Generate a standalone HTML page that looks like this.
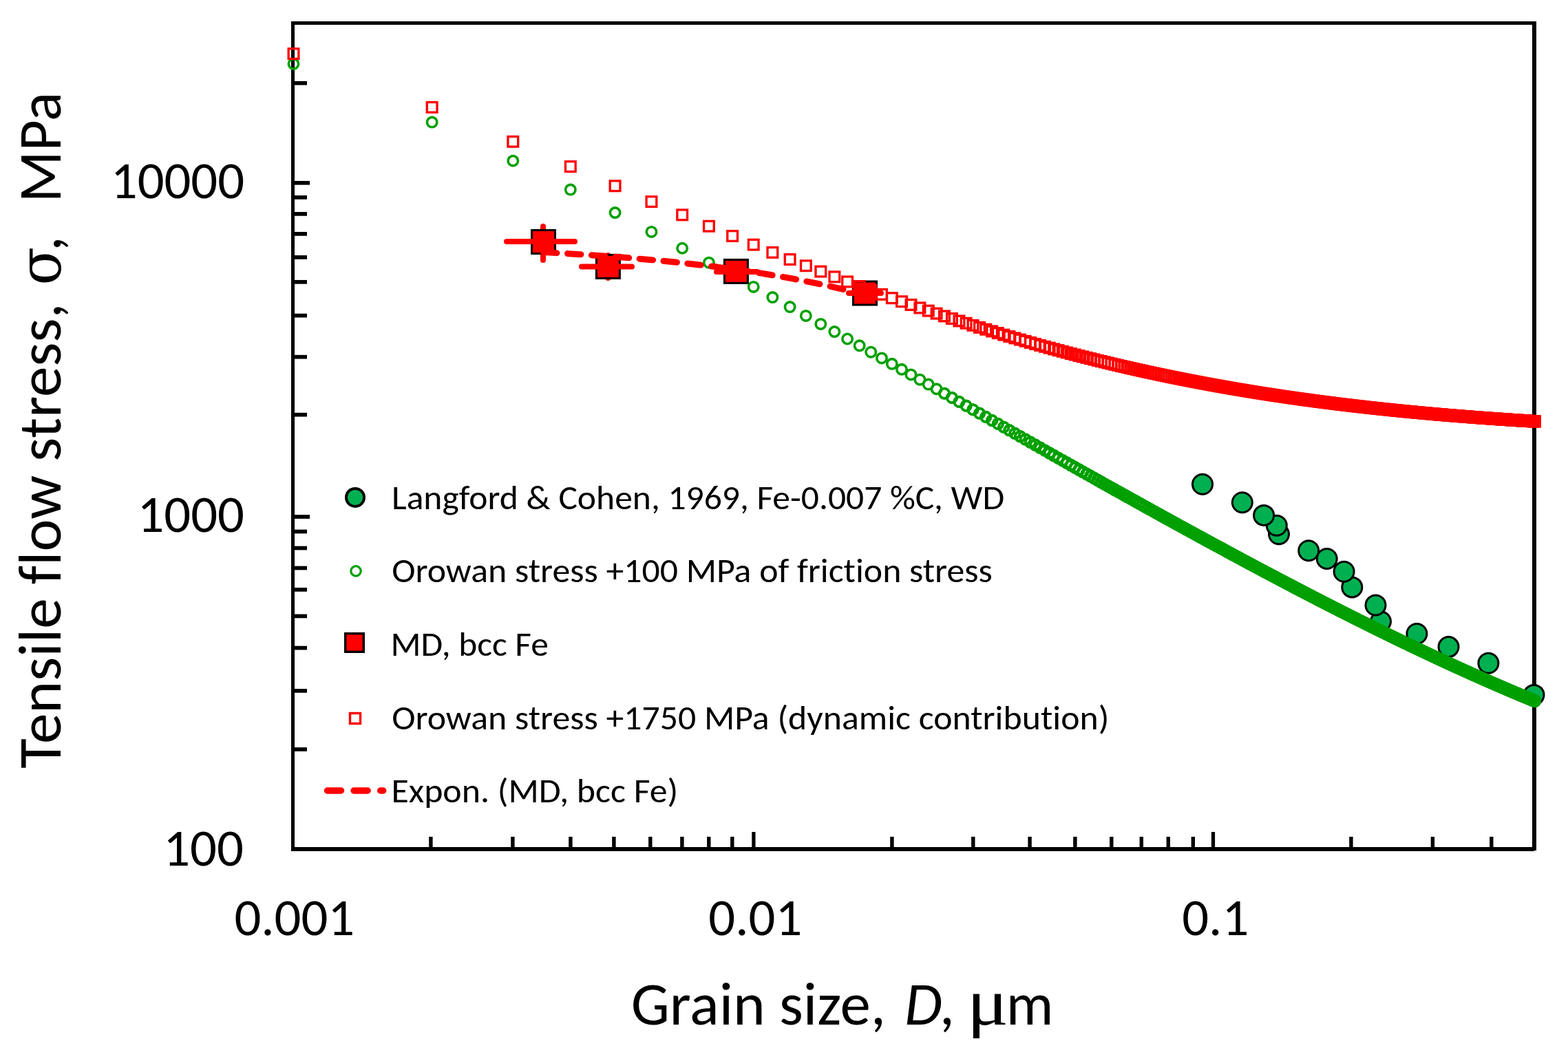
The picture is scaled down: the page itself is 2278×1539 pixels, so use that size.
<!DOCTYPE html>
<html><head><meta charset="utf-8"><title>Tensile flow stress vs grain size</title>
<style>html,body{margin:0;padding:0;background:#fff;overflow:hidden;}svg{display:block;}text{font-variant-ligatures:none;font-feature-settings:'liga' 0,'clig' 0;white-space:pre;}</style>
</head><body>
<svg width="2278" height="1539" viewBox="0 0 2278 1539">
<rect x="0" y="0" width="2278" height="1539" fill="#fff"/>
<g fill="#000">
<rect x="423" y="31" width="5" height="1206"/>
<rect x="423" y="31" width="1809" height="5"/>
<rect x="2226" y="31" width="6" height="1205"/>
<rect x="423" y="1231" width="1806" height="6"/>
<rect x="428" y="117.95" width="18" height="5.7"/>
<rect x="428" y="262.95" width="22" height="5.7"/>
<rect x="428" y="284.00" width="18" height="5.7"/>
<rect x="428" y="308.05" width="18" height="5.7"/>
<rect x="428" y="337.05" width="18" height="5.7"/>
<rect x="428" y="371.05" width="18" height="5.7"/>
<rect x="428" y="406.95" width="18" height="5.7"/>
<rect x="428" y="455.75" width="18" height="5.7"/>
<rect x="428" y="515.85" width="18" height="5.7"/>
<rect x="428" y="599.85" width="18" height="5.7"/>
<rect x="428" y="748.15" width="22" height="5.7"/>
<rect x="428" y="769.65" width="18" height="5.7"/>
<rect x="428" y="793.65" width="18" height="5.7"/>
<rect x="428" y="822.65" width="18" height="5.7"/>
<rect x="428" y="854.05" width="18" height="5.7"/>
<rect x="428" y="892.55" width="18" height="5.7"/>
<rect x="428" y="938.75" width="18" height="5.7"/>
<rect x="428" y="1001.05" width="18" height="5.7"/>
<rect x="428" y="1086.15" width="18" height="5.7"/>
<rect x="623.20" y="1216" width="5.4" height="15"/>
<rect x="742.20" y="1216" width="5.4" height="15"/>
<rect x="826.20" y="1216" width="5.4" height="15"/>
<rect x="889.20" y="1216" width="5.4" height="15"/>
<rect x="942.10" y="1216" width="5.4" height="15"/>
<rect x="988.20" y="1216" width="5.4" height="15"/>
<rect x="1027.10" y="1216" width="5.4" height="15"/>
<rect x="1061.10" y="1216" width="5.4" height="15"/>
<rect x="1092.30" y="1209" width="5.2" height="22"/>
<rect x="1293.20" y="1216" width="5.4" height="15"/>
<rect x="1411.10" y="1216" width="5.4" height="15"/>
<rect x="1493.40" y="1216" width="5.4" height="15"/>
<rect x="1559.20" y="1216" width="5.4" height="15"/>
<rect x="1612.10" y="1216" width="5.4" height="15"/>
<rect x="1655.60" y="1216" width="5.4" height="15"/>
<rect x="1694.60" y="1216" width="5.4" height="15"/>
<rect x="1730.60" y="1216" width="5.4" height="15"/>
<rect x="1759.90" y="1209" width="5.2" height="22"/>
<rect x="1960.20" y="1216" width="5.4" height="15"/>
<rect x="2078.70" y="1216" width="5.4" height="15"/>
<rect x="2164.10" y="1216" width="5.4" height="15"/>
</g>
<g font-family="Carlito, 'Liberation Sans', sans-serif" font-size="76.7" fill="#000">
<text x="355.1" y="288" text-anchor="end" textLength="194.3" lengthAdjust="spacingAndGlyphs">10000</text>
<text x="354.9" y="773" text-anchor="end" textLength="155.5" lengthAdjust="spacingAndGlyphs">1000</text>
<text x="353.8" y="1258" text-anchor="end" textLength="116.6" lengthAdjust="spacingAndGlyphs">100</text>
<text x="427.8" y="1359" text-anchor="middle" textLength="174.8" lengthAdjust="spacingAndGlyphs">0.001</text>
<text x="1097.3" y="1359" text-anchor="middle" textLength="136" lengthAdjust="spacingAndGlyphs">0.01</text>
<text x="1765.8" y="1359" text-anchor="middle" textLength="97.1" lengthAdjust="spacingAndGlyphs">0.1</text>
</g>
<g font-family="Carlito, 'Liberation Sans', sans-serif" font-size="89" fill="#000">
<text x="916.7" y="1488.8" textLength="370.2" lengthAdjust="spacingAndGlyphs">Grain size,</text>
<text x="1314" y="1488.8" font-style="italic" textLength="54.8" lengthAdjust="spacingAndGlyphs">D</text>
<text x="1364.8" y="1488.8" textLength="22.2" lengthAdjust="spacingAndGlyphs">,</text>
<g transform="translate(1413,1488.8) scale(1.1925,1)"><text x="-7" y="0" font-family="'Liberation Serif', serif" font-size="94.5">μ</text></g>
<text x="1461.8" y="1488.8" textLength="68.7" lengthAdjust="spacingAndGlyphs">m</text>
</g>
<g transform="translate(87.9,1116.7) rotate(-90)" font-family="Carlito, 'Liberation Sans', sans-serif" font-size="89" fill="#000">
<text x="0" y="0" textLength="676.3" lengthAdjust="spacingAndGlyphs">Tensile flow stress,</text>
<g transform="translate(706,0) scale(0.9377,1)"><text x="-4" y="0" font-family="'DejaVu Serif', serif" font-size="86.8">σ</text></g>
<text x="751.4" y="0" textLength="22.2" lengthAdjust="spacingAndGlyphs">,</text>
<text x="822.2" y="0" textLength="160.5" lengthAdjust="spacingAndGlyphs">MPa</text>
</g>
<g font-family="Carlito, 'Liberation Sans', sans-serif" font-size="50" fill="#000">
<text x="569.0" y="740" textLength="890.2" lengthAdjust="spacingAndGlyphs">Langford &amp; Cohen, 1969, Fe-0.007 %C, WD</text>
<text x="569.2" y="846" textLength="872.6" lengthAdjust="spacingAndGlyphs">Orowan stress +100 MPa of friction stress</text>
<text x="567.4" y="953" textLength="229.5" lengthAdjust="spacingAndGlyphs">MD, bcc Fe</text>
<text x="569.2" y="1060" textLength="1042.2" lengthAdjust="spacingAndGlyphs">Orowan stress +1750 MPa (dynamic contribution)</text>
<text x="568.4" y="1166" textLength="416.8" lengthAdjust="spacingAndGlyphs">Expon. (MD, bcc Fe)</text>
</g>
<circle cx="516" cy="722.9" r="13" fill="#00B050" stroke="#000" stroke-width="4"/>
<circle cx="517" cy="829.9" r="7.2" fill="none" stroke="#00A000" stroke-width="3.2"/>
<rect x="501.7" y="920.7" width="26.6" height="26.6" fill="#FF0000" stroke="#000" stroke-width="3.4"/>
<rect x="508.5" y="1036.5" width="15" height="15" fill="none" stroke="#FF0000" stroke-width="3.4"/>
<line x1="475.5" y1="1149" x2="556.7" y2="1149" stroke="#FF0000" stroke-width="9.5" stroke-linecap="round" stroke-dasharray="20 18.6"/>
<g fill="#00B050" stroke="#000" stroke-width="3">
<circle cx="1858.0" cy="776.2" r="14.5"/>
<circle cx="1854.8" cy="763.7" r="14.5"/>
<circle cx="1836.1" cy="748.9" r="14.5"/>
<circle cx="1747.0" cy="703.7" r="14.5"/>
<circle cx="1804.8" cy="730.2" r="14.5"/>
<circle cx="1927.7" cy="812.0" r="14.5"/>
<circle cx="1901.2" cy="800.3" r="14.5"/>
<circle cx="1964.3" cy="853.4" r="14.5"/>
<circle cx="1952.6" cy="830.7" r="14.5"/>
<circle cx="2006" cy="903.2" r="14.5"/>
<circle cx="1998.5" cy="879.5" r="14.5"/>
<circle cx="2058.4" cy="921" r="14.5"/>
<circle cx="2104.5" cy="940.1" r="14.5"/>
<circle cx="2162.4" cy="963.8" r="14.5"/>
<circle cx="2228.5" cy="1009.9" r="14.5"/>
</g>
<g fill="none" stroke="#00A000" stroke-width="3.6">
<circle cx="426.50" cy="92.87" r="7.2"/>
<circle cx="627.65" cy="177.57" r="7.2"/>
<circle cx="745.31" cy="233.70" r="7.2"/>
<circle cx="828.80" cy="275.59" r="7.2"/>
<circle cx="893.55" cy="309.03" r="7.2"/>
<circle cx="946.46" cy="336.88" r="7.2"/>
<circle cx="991.19" cy="360.74" r="7.2"/>
<circle cx="1029.94" cy="381.63" r="7.2"/>
<circle cx="1064.12" cy="400.20" r="7.2"/>
<circle cx="1094.70" cy="416.92" r="7.2"/>
<circle cx="1122.36" cy="432.12" r="7.2"/>
<circle cx="1147.61" cy="446.06" r="7.2"/>
<circle cx="1170.84" cy="458.93" r="7.2"/>
<circle cx="1192.34" cy="470.89" r="7.2"/>
<circle cx="1212.36" cy="482.04" r="7.2"/>
<circle cx="1231.09" cy="492.50" r="7.2"/>
<circle cx="1248.69" cy="502.35" r="7.2"/>
<circle cx="1265.27" cy="511.64" r="7.2"/>
<circle cx="1280.96" cy="520.45" r="7.2"/>
<circle cx="1295.85" cy="528.82" r="7.2"/>
<circle cx="1310.01" cy="536.78" r="7.2"/>
<circle cx="1323.51" cy="544.38" r="7.2"/>
<circle cx="1336.41" cy="551.65" r="7.2"/>
<circle cx="1348.76" cy="558.61" r="7.2"/>
<circle cx="1360.60" cy="565.29" r="7.2"/>
<circle cx="1371.99" cy="571.72" r="7.2"/>
<circle cx="1371.99" cy="571.77" r="7.2"/>
<circle cx="1382.94" cy="577.90" r="7.2"/>
<circle cx="1382.94" cy="578.00" r="7.2"/>
<circle cx="1393.49" cy="583.86" r="7.2"/>
<circle cx="1393.49" cy="584.00" r="7.2"/>
<circle cx="1403.67" cy="589.61" r="7.2"/>
<circle cx="1403.67" cy="589.80" r="7.2"/>
<circle cx="1413.51" cy="595.17" r="7.2"/>
<circle cx="1413.51" cy="595.41" r="7.2"/>
<circle cx="1423.03" cy="600.54" r="7.2"/>
<circle cx="1423.03" cy="600.83" r="7.2"/>
<circle cx="1432.24" cy="605.75" r="7.2"/>
<circle cx="1432.24" cy="606.08" r="7.2"/>
<circle cx="1441.17" cy="610.79" r="7.2"/>
<circle cx="1441.17" cy="611.17" r="7.2"/>
<circle cx="1449.83" cy="615.68" r="7.2"/>
<circle cx="1449.83" cy="616.12" r="7.2"/>
<circle cx="1458.25" cy="620.43" r="7.2"/>
<circle cx="1458.25" cy="620.91" r="7.2"/>
<circle cx="1466.42" cy="625.05" r="7.2"/>
<circle cx="1466.42" cy="625.58" r="7.2"/>
<circle cx="1474.37" cy="629.54" r="7.2"/>
<circle cx="1474.37" cy="630.11" r="7.2"/>
<circle cx="1482.11" cy="633.91" r="7.2"/>
<circle cx="1482.11" cy="634.53" r="7.2"/>
<circle cx="1489.65" cy="638.16" r="7.2"/>
<circle cx="1489.65" cy="638.83" r="7.2"/>
<circle cx="1497.00" cy="642.30" r="7.2"/>
<circle cx="1497.00" cy="643.02" r="7.2"/>
<circle cx="1504.16" cy="646.35" r="7.2"/>
<circle cx="1504.16" cy="647.11" r="7.2"/>
<circle cx="1511.16" cy="650.29" r="7.2"/>
<circle cx="1511.16" cy="651.10" r="7.2"/>
<circle cx="1517.98" cy="654.13" r="7.2"/>
<circle cx="1517.98" cy="655.00" r="7.2"/>
<circle cx="1524.66" cy="657.89" r="7.2"/>
<circle cx="1524.66" cy="658.80" r="7.2"/>
<circle cx="1531.18" cy="661.56" r="7.2"/>
<circle cx="1531.18" cy="662.52" r="7.2"/>
<circle cx="1537.55" cy="665.15" r="7.2"/>
<circle cx="1537.55" cy="666.16" r="7.2"/>
<circle cx="1543.80" cy="668.67" r="7.2"/>
<circle cx="1543.80" cy="669.72" r="7.2"/>
<circle cx="1549.91" cy="672.10" r="7.2"/>
<circle cx="1549.91" cy="673.20" r="7.2"/>
<circle cx="1555.89" cy="675.46" r="7.2"/>
<circle cx="1555.89" cy="676.62" r="7.2"/>
<circle cx="1561.75" cy="678.76" r="7.2"/>
<circle cx="1561.75" cy="679.96" r="7.2"/>
<circle cx="1567.50" cy="681.98" r="7.2"/>
<circle cx="1567.50" cy="683.18" r="7.2"/>
<circle cx="1573.13" cy="685.15" r="7.2"/>
<circle cx="1573.13" cy="686.35" r="7.2"/>
<circle cx="1578.66" cy="688.25" r="7.2"/>
<circle cx="1578.66" cy="689.45" r="7.2"/>
<circle cx="1584.09" cy="691.29" r="7.2"/>
<circle cx="1584.09" cy="692.49" r="7.2"/>
<circle cx="1589.41" cy="694.27" r="7.2"/>
<circle cx="1589.41" cy="695.47" r="7.2"/>
<circle cx="1594.64" cy="697.20" r="7.2"/>
<circle cx="1594.64" cy="698.40" r="7.2"/>
<circle cx="1599.78" cy="700.07" r="7.2"/>
<circle cx="1599.78" cy="701.27" r="7.2"/>
<circle cx="1604.82" cy="702.89" r="7.2"/>
<circle cx="1604.82" cy="704.09" r="7.2"/>
<circle cx="1609.78" cy="705.67" r="7.2"/>
<circle cx="1609.78" cy="706.87" r="7.2"/>
<circle cx="1614.66" cy="708.39" r="7.2"/>
<circle cx="1614.66" cy="709.59" r="7.2"/>
<circle cx="1619.46" cy="711.07" r="7.2"/>
<circle cx="1619.46" cy="712.27" r="7.2"/>
<circle cx="1624.18" cy="713.70" r="7.2"/>
<circle cx="1624.18" cy="714.90" r="7.2"/>
<circle cx="1628.82" cy="716.29" r="7.2"/>
<circle cx="1628.82" cy="717.49" r="7.2"/>
<circle cx="1633.39" cy="718.84" r="7.2"/>
<circle cx="1633.39" cy="720.04" r="7.2"/>
<circle cx="1637.89" cy="721.34" r="7.2"/>
<circle cx="1637.89" cy="722.54" r="7.2"/>
<circle cx="1642.32" cy="723.81" r="7.2"/>
<circle cx="1642.32" cy="725.01" r="7.2"/>
<circle cx="1646.68" cy="726.23" r="7.2"/>
<circle cx="1646.68" cy="727.43" r="7.2"/>
<circle cx="1650.98" cy="728.62" r="7.2"/>
<circle cx="1650.98" cy="729.82" r="7.2"/>
<circle cx="1655.22" cy="730.98" r="7.2"/>
<circle cx="1655.22" cy="732.18" r="7.2"/>
<circle cx="1659.39" cy="733.29" r="7.2"/>
<circle cx="1659.39" cy="734.49" r="7.2"/>
<circle cx="1663.51" cy="735.58" r="7.2"/>
<circle cx="1663.51" cy="736.78" r="7.2"/>
<circle cx="1667.57" cy="737.83" r="7.2"/>
<circle cx="1667.57" cy="739.03" r="7.2"/>
<circle cx="1671.57" cy="740.04" r="7.2"/>
<circle cx="1671.57" cy="741.24" r="7.2"/>
<circle cx="1675.52" cy="742.23" r="7.2"/>
<circle cx="1675.52" cy="743.43" r="7.2"/>
<circle cx="1679.42" cy="744.38" r="7.2"/>
<circle cx="1679.42" cy="745.58" r="7.2"/>
<circle cx="1683.26" cy="746.51" r="7.2"/>
<circle cx="1683.26" cy="747.71" r="7.2"/>
<circle cx="1687.05" cy="748.60" r="7.2"/>
<circle cx="1687.05" cy="749.80" r="7.2"/>
<circle cx="1690.80" cy="750.67" r="7.2"/>
<circle cx="1690.80" cy="751.87" r="7.2"/>
<circle cx="1694.49" cy="752.71" r="7.2"/>
<circle cx="1694.49" cy="753.91" r="7.2"/>
<circle cx="1698.14" cy="754.72" r="7.2"/>
<circle cx="1698.14" cy="755.92" r="7.2"/>
<circle cx="1701.75" cy="756.70" r="7.2"/>
<circle cx="1701.75" cy="757.90" r="7.2"/>
<circle cx="1705.31" cy="758.66" r="7.2"/>
<circle cx="1705.31" cy="759.86" r="7.2"/>
<circle cx="1708.83" cy="760.60" r="7.2"/>
<circle cx="1708.83" cy="761.80" r="7.2"/>
<circle cx="1712.30" cy="762.51" r="7.2"/>
<circle cx="1712.30" cy="763.71" r="7.2"/>
<circle cx="1715.74" cy="764.39" r="7.2"/>
<circle cx="1715.74" cy="765.59" r="7.2"/>
<circle cx="1719.13" cy="766.26" r="7.2"/>
<circle cx="1719.13" cy="767.46" r="7.2"/>
<circle cx="1722.49" cy="768.09" r="7.2"/>
<circle cx="1722.49" cy="769.29" r="7.2"/>
<circle cx="1725.80" cy="769.91" r="7.2"/>
<circle cx="1725.80" cy="771.11" r="7.2"/>
<circle cx="1729.08" cy="771.71" r="7.2"/>
<circle cx="1729.08" cy="772.91" r="7.2"/>
<circle cx="1732.32" cy="773.48" r="7.2"/>
<circle cx="1732.32" cy="774.68" r="7.2"/>
<circle cx="1735.53" cy="775.23" r="7.2"/>
<circle cx="1735.53" cy="776.43" r="7.2"/>
<circle cx="1738.70" cy="776.97" r="7.2"/>
<circle cx="1738.70" cy="778.17" r="7.2"/>
<circle cx="1741.84" cy="778.68" r="7.2"/>
<circle cx="1741.84" cy="779.88" r="7.2"/>
<circle cx="1744.94" cy="780.37" r="7.2"/>
<circle cx="1744.94" cy="781.57" r="7.2"/>
<circle cx="1748.01" cy="782.05" r="7.2"/>
<circle cx="1748.01" cy="783.25" r="7.2"/>
<circle cx="1751.05" cy="783.70" r="7.2"/>
<circle cx="1751.05" cy="784.90" r="7.2"/>
<circle cx="1754.06" cy="785.34" r="7.2"/>
<circle cx="1754.06" cy="786.54" r="7.2"/>
<circle cx="1757.04" cy="786.96" r="7.2"/>
<circle cx="1757.04" cy="788.16" r="7.2"/>
<circle cx="1759.98" cy="788.56" r="7.2"/>
<circle cx="1759.98" cy="789.76" r="7.2"/>
<circle cx="1762.90" cy="790.14" r="7.2"/>
<circle cx="1762.90" cy="791.34" r="7.2"/>
<circle cx="1765.79" cy="791.71" r="7.2"/>
<circle cx="1765.79" cy="792.91" r="7.2"/>
<circle cx="1768.65" cy="793.26" r="7.2"/>
<circle cx="1768.65" cy="794.46" r="7.2"/>
<circle cx="1771.48" cy="794.79" r="7.2"/>
<circle cx="1771.48" cy="795.99" r="7.2"/>
<circle cx="1774.28" cy="796.31" r="7.2"/>
<circle cx="1774.28" cy="797.51" r="7.2"/>
<circle cx="1777.06" cy="797.81" r="7.2"/>
<circle cx="1777.06" cy="799.01" r="7.2"/>
<circle cx="1779.81" cy="799.30" r="7.2"/>
<circle cx="1779.81" cy="800.50" r="7.2"/>
<circle cx="1782.53" cy="800.77" r="7.2"/>
<circle cx="1782.53" cy="801.97" r="7.2"/>
<circle cx="1785.23" cy="802.23" r="7.2"/>
<circle cx="1785.23" cy="803.43" r="7.2"/>
<circle cx="1787.91" cy="803.67" r="7.2"/>
<circle cx="1787.91" cy="804.87" r="7.2"/>
<circle cx="1790.56" cy="805.10" r="7.2"/>
<circle cx="1790.56" cy="806.30" r="7.2"/>
<circle cx="1793.18" cy="806.51" r="7.2"/>
<circle cx="1793.18" cy="807.71" r="7.2"/>
<circle cx="1795.79" cy="807.91" r="7.2"/>
<circle cx="1795.79" cy="809.11" r="7.2"/>
<circle cx="1798.37" cy="809.30" r="7.2"/>
<circle cx="1798.37" cy="810.50" r="7.2"/>
<circle cx="1800.92" cy="810.67" r="7.2"/>
<circle cx="1800.92" cy="811.87" r="7.2"/>
<circle cx="1803.46" cy="812.03" r="7.2"/>
<circle cx="1803.46" cy="813.23" r="7.2"/>
<circle cx="1805.97" cy="813.38" r="7.2"/>
<circle cx="1805.97" cy="814.58" r="7.2"/>
<circle cx="1808.46" cy="814.71" r="7.2"/>
<circle cx="1808.46" cy="815.91" r="7.2"/>
<circle cx="1810.93" cy="816.04" r="7.2"/>
<circle cx="1810.93" cy="817.24" r="7.2"/>
<circle cx="1813.38" cy="817.35" r="7.2"/>
<circle cx="1813.38" cy="818.55" r="7.2"/>
<circle cx="1815.81" cy="818.65" r="7.2"/>
<circle cx="1815.81" cy="819.85" r="7.2"/>
<circle cx="1818.22" cy="819.93" r="7.2"/>
<circle cx="1818.22" cy="821.13" r="7.2"/>
<circle cx="1820.61" cy="821.21" r="7.2"/>
<circle cx="1820.61" cy="822.41" r="7.2"/>
<circle cx="1822.97" cy="822.47" r="7.2"/>
<circle cx="1822.97" cy="823.67" r="7.2"/>
<circle cx="1825.32" cy="823.72" r="7.2"/>
<circle cx="1825.32" cy="824.92" r="7.2"/>
<circle cx="1827.66" cy="824.97" r="7.2"/>
<circle cx="1827.66" cy="826.17" r="7.2"/>
<circle cx="1829.97" cy="826.20" r="7.2"/>
<circle cx="1829.97" cy="827.40" r="7.2"/>
<circle cx="1832.26" cy="827.42" r="7.2"/>
<circle cx="1832.26" cy="828.62" r="7.2"/>
<circle cx="1834.54" cy="828.63" r="7.2"/>
<circle cx="1834.54" cy="829.83" r="7.2"/>
<circle cx="1836.80" cy="829.83" r="7.2"/>
<circle cx="1836.80" cy="831.03" r="7.2"/>
<circle cx="1839.04" cy="831.01" r="7.2"/>
<circle cx="1839.04" cy="832.21" r="7.2"/>
<circle cx="1841.26" cy="832.19" r="7.2"/>
<circle cx="1841.26" cy="833.39" r="7.2"/>
<circle cx="1843.47" cy="833.36" r="7.2"/>
<circle cx="1843.47" cy="834.56" r="7.2"/>
<circle cx="1845.66" cy="834.52" r="7.2"/>
<circle cx="1845.66" cy="835.72" r="7.2"/>
<circle cx="1847.83" cy="835.67" r="7.2"/>
<circle cx="1847.83" cy="836.87" r="7.2"/>
<circle cx="1849.99" cy="836.81" r="7.2"/>
<circle cx="1849.99" cy="838.01" r="7.2"/>
<circle cx="1852.13" cy="837.94" r="7.2"/>
<circle cx="1852.13" cy="839.14" r="7.2"/>
<circle cx="1854.26" cy="839.06" r="7.2"/>
<circle cx="1854.26" cy="840.26" r="7.2"/>
<circle cx="1856.37" cy="840.18" r="7.2"/>
<circle cx="1856.37" cy="841.38" r="7.2"/>
<circle cx="1858.46" cy="841.28" r="7.2"/>
<circle cx="1858.46" cy="842.48" r="7.2"/>
<circle cx="1860.54" cy="842.38" r="7.2"/>
<circle cx="1860.54" cy="843.58" r="7.2"/>
<circle cx="1862.61" cy="843.46" r="7.2"/>
<circle cx="1862.61" cy="844.66" r="7.2"/>
<circle cx="1864.66" cy="844.54" r="7.2"/>
<circle cx="1864.66" cy="845.74" r="7.2"/>
<circle cx="1866.70" cy="845.61" r="7.2"/>
<circle cx="1866.70" cy="846.81" r="7.2"/>
<circle cx="1868.72" cy="846.67" r="7.2"/>
<circle cx="1868.72" cy="847.87" r="7.2"/>
<circle cx="1870.73" cy="847.73" r="7.2"/>
<circle cx="1870.73" cy="848.93" r="7.2"/>
<circle cx="1872.72" cy="848.77" r="7.2"/>
<circle cx="1872.72" cy="849.97" r="7.2"/>
<circle cx="1874.70" cy="849.81" r="7.2"/>
<circle cx="1874.70" cy="851.01" r="7.2"/>
<circle cx="1876.67" cy="850.84" r="7.2"/>
<circle cx="1876.67" cy="852.04" r="7.2"/>
<circle cx="1878.62" cy="851.86" r="7.2"/>
<circle cx="1878.62" cy="853.06" r="7.2"/>
<circle cx="1880.56" cy="852.87" r="7.2"/>
<circle cx="1880.56" cy="854.07" r="7.2"/>
<circle cx="1882.49" cy="853.88" r="7.2"/>
<circle cx="1882.49" cy="855.08" r="7.2"/>
<circle cx="1884.41" cy="854.88" r="7.2"/>
<circle cx="1884.41" cy="856.08" r="7.2"/>
<circle cx="1886.31" cy="855.87" r="7.2"/>
<circle cx="1886.31" cy="857.07" r="7.2"/>
<circle cx="1888.20" cy="856.86" r="7.2"/>
<circle cx="1888.20" cy="858.06" r="7.2"/>
<circle cx="1890.08" cy="857.83" r="7.2"/>
<circle cx="1890.08" cy="859.03" r="7.2"/>
<circle cx="1891.95" cy="858.80" r="7.2"/>
<circle cx="1891.95" cy="860.00" r="7.2"/>
<circle cx="1893.80" cy="859.77" r="7.2"/>
<circle cx="1893.80" cy="860.97" r="7.2"/>
<circle cx="1895.64" cy="860.72" r="7.2"/>
<circle cx="1895.64" cy="861.92" r="7.2"/>
<circle cx="1897.47" cy="861.67" r="7.2"/>
<circle cx="1897.47" cy="862.87" r="7.2"/>
<circle cx="1899.29" cy="862.62" r="7.2"/>
<circle cx="1899.29" cy="863.82" r="7.2"/>
<circle cx="1901.10" cy="863.55" r="7.2"/>
<circle cx="1901.10" cy="864.75" r="7.2"/>
<circle cx="1902.90" cy="864.48" r="7.2"/>
<circle cx="1902.90" cy="865.68" r="7.2"/>
<circle cx="1904.68" cy="865.41" r="7.2"/>
<circle cx="1904.68" cy="866.61" r="7.2"/>
<circle cx="1906.46" cy="866.32" r="7.2"/>
<circle cx="1906.46" cy="867.52" r="7.2"/>
<circle cx="1908.22" cy="867.24" r="7.2"/>
<circle cx="1908.22" cy="868.44" r="7.2"/>
<circle cx="1909.98" cy="868.14" r="7.2"/>
<circle cx="1909.98" cy="869.34" r="7.2"/>
<circle cx="1911.72" cy="869.04" r="7.2"/>
<circle cx="1911.72" cy="870.24" r="7.2"/>
<circle cx="1913.45" cy="869.93" r="7.2"/>
<circle cx="1913.45" cy="871.13" r="7.2"/>
<circle cx="1915.17" cy="870.82" r="7.2"/>
<circle cx="1915.17" cy="872.02" r="7.2"/>
<circle cx="1916.89" cy="871.70" r="7.2"/>
<circle cx="1916.89" cy="872.90" r="7.2"/>
<circle cx="1918.59" cy="872.57" r="7.2"/>
<circle cx="1918.59" cy="873.77" r="7.2"/>
<circle cx="1920.28" cy="873.44" r="7.2"/>
<circle cx="1920.28" cy="874.64" r="7.2"/>
<circle cx="1921.96" cy="874.31" r="7.2"/>
<circle cx="1921.96" cy="875.51" r="7.2"/>
<circle cx="1923.64" cy="875.16" r="7.2"/>
<circle cx="1923.64" cy="876.36" r="7.2"/>
<circle cx="1925.30" cy="876.02" r="7.2"/>
<circle cx="1925.30" cy="877.22" r="7.2"/>
<circle cx="1926.95" cy="876.86" r="7.2"/>
<circle cx="1926.95" cy="878.06" r="7.2"/>
<circle cx="1928.60" cy="877.70" r="7.2"/>
<circle cx="1928.60" cy="878.90" r="7.2"/>
<circle cx="1930.23" cy="878.54" r="7.2"/>
<circle cx="1930.23" cy="879.74" r="7.2"/>
<circle cx="1931.86" cy="879.37" r="7.2"/>
<circle cx="1931.86" cy="880.57" r="7.2"/>
<circle cx="1933.47" cy="880.20" r="7.2"/>
<circle cx="1933.47" cy="881.40" r="7.2"/>
<circle cx="1935.08" cy="881.02" r="7.2"/>
<circle cx="1935.08" cy="882.22" r="7.2"/>
<circle cx="1936.68" cy="881.83" r="7.2"/>
<circle cx="1936.68" cy="883.03" r="7.2"/>
<circle cx="1938.27" cy="882.64" r="7.2"/>
<circle cx="1938.27" cy="883.84" r="7.2"/>
<circle cx="1939.85" cy="883.45" r="7.2"/>
<circle cx="1939.85" cy="884.65" r="7.2"/>
<circle cx="1941.42" cy="884.25" r="7.2"/>
<circle cx="1941.42" cy="885.45" r="7.2"/>
<circle cx="1942.99" cy="885.04" r="7.2"/>
<circle cx="1942.99" cy="886.24" r="7.2"/>
<circle cx="1944.54" cy="885.83" r="7.2"/>
<circle cx="1944.54" cy="887.03" r="7.2"/>
<circle cx="1946.09" cy="886.62" r="7.2"/>
<circle cx="1946.09" cy="887.82" r="7.2"/>
<circle cx="1947.63" cy="887.40" r="7.2"/>
<circle cx="1947.63" cy="888.60" r="7.2"/>
<circle cx="1949.16" cy="888.17" r="7.2"/>
<circle cx="1949.16" cy="889.37" r="7.2"/>
<circle cx="1950.69" cy="888.94" r="7.2"/>
<circle cx="1950.69" cy="890.14" r="7.2"/>
<circle cx="1952.20" cy="889.71" r="7.2"/>
<circle cx="1952.20" cy="890.91" r="7.2"/>
<circle cx="1953.71" cy="890.47" r="7.2"/>
<circle cx="1953.71" cy="891.67" r="7.2"/>
<circle cx="1955.21" cy="891.23" r="7.2"/>
<circle cx="1955.21" cy="892.43" r="7.2"/>
<circle cx="1956.70" cy="891.98" r="7.2"/>
<circle cx="1956.70" cy="893.18" r="7.2"/>
<circle cx="1958.19" cy="892.73" r="7.2"/>
<circle cx="1958.19" cy="893.93" r="7.2"/>
<circle cx="1959.66" cy="893.48" r="7.2"/>
<circle cx="1959.66" cy="894.68" r="7.2"/>
<circle cx="1961.13" cy="894.22" r="7.2"/>
<circle cx="1961.13" cy="895.42" r="7.2"/>
<circle cx="1962.59" cy="894.95" r="7.2"/>
<circle cx="1962.59" cy="896.15" r="7.2"/>
<circle cx="1964.05" cy="895.68" r="7.2"/>
<circle cx="1964.05" cy="896.88" r="7.2"/>
<circle cx="1965.50" cy="896.41" r="7.2"/>
<circle cx="1965.50" cy="897.61" r="7.2"/>
<circle cx="1966.94" cy="897.13" r="7.2"/>
<circle cx="1966.94" cy="898.33" r="7.2"/>
<circle cx="1968.37" cy="897.85" r="7.2"/>
<circle cx="1968.37" cy="899.05" r="7.2"/>
<circle cx="1969.79" cy="898.57" r="7.2"/>
<circle cx="1969.79" cy="899.77" r="7.2"/>
<circle cx="1971.21" cy="899.28" r="7.2"/>
<circle cx="1971.21" cy="900.48" r="7.2"/>
<circle cx="1972.63" cy="899.99" r="7.2"/>
<circle cx="1972.63" cy="901.19" r="7.2"/>
<circle cx="1974.03" cy="900.69" r="7.2"/>
<circle cx="1974.03" cy="901.89" r="7.2"/>
<circle cx="1975.43" cy="901.39" r="7.2"/>
<circle cx="1975.43" cy="902.59" r="7.2"/>
<circle cx="1976.82" cy="902.08" r="7.2"/>
<circle cx="1976.82" cy="903.28" r="7.2"/>
<circle cx="1978.21" cy="902.77" r="7.2"/>
<circle cx="1978.21" cy="903.97" r="7.2"/>
<circle cx="1979.59" cy="903.46" r="7.2"/>
<circle cx="1979.59" cy="904.66" r="7.2"/>
<circle cx="1980.96" cy="904.14" r="7.2"/>
<circle cx="1980.96" cy="905.34" r="7.2"/>
<circle cx="1982.32" cy="904.82" r="7.2"/>
<circle cx="1982.32" cy="906.02" r="7.2"/>
<circle cx="1983.68" cy="905.50" r="7.2"/>
<circle cx="1983.68" cy="906.70" r="7.2"/>
<circle cx="1985.04" cy="906.17" r="7.2"/>
<circle cx="1985.04" cy="907.37" r="7.2"/>
<circle cx="1986.38" cy="906.84" r="7.2"/>
<circle cx="1986.38" cy="908.04" r="7.2"/>
<circle cx="1987.72" cy="907.51" r="7.2"/>
<circle cx="1987.72" cy="908.71" r="7.2"/>
<circle cx="1989.06" cy="908.17" r="7.2"/>
<circle cx="1989.06" cy="909.37" r="7.2"/>
<circle cx="1990.38" cy="908.83" r="7.2"/>
<circle cx="1990.38" cy="910.03" r="7.2"/>
<circle cx="1991.71" cy="909.48" r="7.2"/>
<circle cx="1991.71" cy="910.68" r="7.2"/>
<circle cx="1993.02" cy="910.14" r="7.2"/>
<circle cx="1993.02" cy="911.34" r="7.2"/>
<circle cx="1994.33" cy="910.78" r="7.2"/>
<circle cx="1994.33" cy="911.98" r="7.2"/>
<circle cx="1995.64" cy="911.43" r="7.2"/>
<circle cx="1995.64" cy="912.63" r="7.2"/>
<circle cx="1996.94" cy="912.07" r="7.2"/>
<circle cx="1996.94" cy="913.27" r="7.2"/>
<circle cx="1998.23" cy="912.71" r="7.2"/>
<circle cx="1998.23" cy="913.91" r="7.2"/>
<circle cx="1999.52" cy="913.34" r="7.2"/>
<circle cx="1999.52" cy="914.54" r="7.2"/>
<circle cx="2000.80" cy="913.97" r="7.2"/>
<circle cx="2000.80" cy="915.17" r="7.2"/>
<circle cx="2002.07" cy="914.60" r="7.2"/>
<circle cx="2002.07" cy="915.80" r="7.2"/>
<circle cx="2003.34" cy="915.23" r="7.2"/>
<circle cx="2003.34" cy="916.43" r="7.2"/>
<circle cx="2004.61" cy="915.85" r="7.2"/>
<circle cx="2004.61" cy="917.05" r="7.2"/>
<circle cx="2005.87" cy="916.47" r="7.2"/>
<circle cx="2005.87" cy="917.67" r="7.2"/>
<circle cx="2007.12" cy="917.08" r="7.2"/>
<circle cx="2007.12" cy="918.28" r="7.2"/>
<circle cx="2008.37" cy="917.69" r="7.2"/>
<circle cx="2008.37" cy="918.89" r="7.2"/>
<circle cx="2009.61" cy="918.30" r="7.2"/>
<circle cx="2009.61" cy="919.50" r="7.2"/>
<circle cx="2010.85" cy="918.91" r="7.2"/>
<circle cx="2010.85" cy="920.11" r="7.2"/>
<circle cx="2012.08" cy="919.51" r="7.2"/>
<circle cx="2012.08" cy="920.71" r="7.2"/>
<circle cx="2013.31" cy="920.11" r="7.2"/>
<circle cx="2013.31" cy="921.31" r="7.2"/>
<circle cx="2014.53" cy="920.71" r="7.2"/>
<circle cx="2014.53" cy="921.91" r="7.2"/>
<circle cx="2015.75" cy="921.31" r="7.2"/>
<circle cx="2015.75" cy="922.51" r="7.2"/>
<circle cx="2016.96" cy="921.90" r="7.2"/>
<circle cx="2016.96" cy="923.10" r="7.2"/>
<circle cx="2018.16" cy="922.49" r="7.2"/>
<circle cx="2018.16" cy="923.69" r="7.2"/>
<circle cx="2019.37" cy="923.07" r="7.2"/>
<circle cx="2019.37" cy="924.27" r="7.2"/>
<circle cx="2020.56" cy="923.65" r="7.2"/>
<circle cx="2020.56" cy="924.85" r="7.2"/>
<circle cx="2021.75" cy="924.23" r="7.2"/>
<circle cx="2021.75" cy="925.43" r="7.2"/>
<circle cx="2022.94" cy="924.81" r="7.2"/>
<circle cx="2022.94" cy="926.01" r="7.2"/>
<circle cx="2024.12" cy="925.39" r="7.2"/>
<circle cx="2024.12" cy="926.59" r="7.2"/>
<circle cx="2025.30" cy="925.96" r="7.2"/>
<circle cx="2025.30" cy="927.16" r="7.2"/>
<circle cx="2026.47" cy="926.53" r="7.2"/>
<circle cx="2026.47" cy="927.73" r="7.2"/>
<circle cx="2027.64" cy="927.09" r="7.2"/>
<circle cx="2027.64" cy="928.29" r="7.2"/>
<circle cx="2028.80" cy="927.66" r="7.2"/>
<circle cx="2028.80" cy="928.86" r="7.2"/>
<circle cx="2029.96" cy="928.22" r="7.2"/>
<circle cx="2029.96" cy="929.42" r="7.2"/>
<circle cx="2031.12" cy="928.78" r="7.2"/>
<circle cx="2031.12" cy="929.98" r="7.2"/>
<circle cx="2032.27" cy="929.33" r="7.2"/>
<circle cx="2032.27" cy="930.53" r="7.2"/>
<circle cx="2033.41" cy="929.88" r="7.2"/>
<circle cx="2033.41" cy="931.08" r="7.2"/>
<circle cx="2034.55" cy="930.44" r="7.2"/>
<circle cx="2034.55" cy="931.64" r="7.2"/>
<circle cx="2035.69" cy="930.98" r="7.2"/>
<circle cx="2035.69" cy="932.18" r="7.2"/>
<circle cx="2036.82" cy="931.53" r="7.2"/>
<circle cx="2036.82" cy="932.73" r="7.2"/>
<circle cx="2037.94" cy="932.07" r="7.2"/>
<circle cx="2037.94" cy="933.27" r="7.2"/>
<circle cx="2039.07" cy="932.61" r="7.2"/>
<circle cx="2039.07" cy="933.81" r="7.2"/>
<circle cx="2040.19" cy="933.15" r="7.2"/>
<circle cx="2040.19" cy="934.35" r="7.2"/>
<circle cx="2041.30" cy="933.69" r="7.2"/>
<circle cx="2041.30" cy="934.89" r="7.2"/>
<circle cx="2042.41" cy="934.22" r="7.2"/>
<circle cx="2042.41" cy="935.42" r="7.2"/>
<circle cx="2043.51" cy="934.75" r="7.2"/>
<circle cx="2043.51" cy="935.95" r="7.2"/>
<circle cx="2044.62" cy="935.28" r="7.2"/>
<circle cx="2044.62" cy="936.48" r="7.2"/>
<circle cx="2045.71" cy="935.80" r="7.2"/>
<circle cx="2045.71" cy="937.00" r="7.2"/>
<circle cx="2046.81" cy="936.33" r="7.2"/>
<circle cx="2046.81" cy="937.53" r="7.2"/>
<circle cx="2047.89" cy="936.85" r="7.2"/>
<circle cx="2047.89" cy="938.05" r="7.2"/>
<circle cx="2048.98" cy="937.37" r="7.2"/>
<circle cx="2048.98" cy="938.57" r="7.2"/>
<circle cx="2050.06" cy="937.88" r="7.2"/>
<circle cx="2050.06" cy="939.08" r="7.2"/>
<circle cx="2051.14" cy="938.40" r="7.2"/>
<circle cx="2051.14" cy="939.60" r="7.2"/>
<circle cx="2052.21" cy="938.91" r="7.2"/>
<circle cx="2052.21" cy="940.11" r="7.2"/>
<circle cx="2053.28" cy="939.42" r="7.2"/>
<circle cx="2053.28" cy="940.62" r="7.2"/>
<circle cx="2054.34" cy="939.93" r="7.2"/>
<circle cx="2054.34" cy="941.13" r="7.2"/>
<circle cx="2055.40" cy="940.43" r="7.2"/>
<circle cx="2055.40" cy="941.63" r="7.2"/>
<circle cx="2056.46" cy="940.94" r="7.2"/>
<circle cx="2056.46" cy="942.14" r="7.2"/>
<circle cx="2057.52" cy="941.44" r="7.2"/>
<circle cx="2057.52" cy="942.64" r="7.2"/>
<circle cx="2058.56" cy="941.94" r="7.2"/>
<circle cx="2058.56" cy="943.14" r="7.2"/>
<circle cx="2059.61" cy="942.43" r="7.2"/>
<circle cx="2059.61" cy="943.63" r="7.2"/>
<circle cx="2060.65" cy="942.93" r="7.2"/>
<circle cx="2060.65" cy="944.13" r="7.2"/>
<circle cx="2061.69" cy="943.42" r="7.2"/>
<circle cx="2061.69" cy="944.62" r="7.2"/>
<circle cx="2062.73" cy="943.91" r="7.2"/>
<circle cx="2062.73" cy="945.11" r="7.2"/>
<circle cx="2063.76" cy="944.40" r="7.2"/>
<circle cx="2063.76" cy="945.60" r="7.2"/>
<circle cx="2064.78" cy="944.89" r="7.2"/>
<circle cx="2064.78" cy="946.09" r="7.2"/>
<circle cx="2065.81" cy="945.37" r="7.2"/>
<circle cx="2065.81" cy="946.57" r="7.2"/>
<circle cx="2066.83" cy="945.85" r="7.2"/>
<circle cx="2066.83" cy="947.05" r="7.2"/>
<circle cx="2067.84" cy="946.33" r="7.2"/>
<circle cx="2067.84" cy="947.53" r="7.2"/>
<circle cx="2068.86" cy="946.81" r="7.2"/>
<circle cx="2068.86" cy="948.01" r="7.2"/>
<circle cx="2069.87" cy="947.29" r="7.2"/>
<circle cx="2069.87" cy="948.49" r="7.2"/>
<circle cx="2070.87" cy="947.76" r="7.2"/>
<circle cx="2070.87" cy="948.96" r="7.2"/>
<circle cx="2071.87" cy="948.23" r="7.2"/>
<circle cx="2071.87" cy="949.43" r="7.2"/>
<circle cx="2072.87" cy="948.70" r="7.2"/>
<circle cx="2072.87" cy="949.90" r="7.2"/>
<circle cx="2073.87" cy="949.17" r="7.2"/>
<circle cx="2073.87" cy="950.37" r="7.2"/>
<circle cx="2074.86" cy="949.64" r="7.2"/>
<circle cx="2074.86" cy="950.84" r="7.2"/>
<circle cx="2075.85" cy="950.10" r="7.2"/>
<circle cx="2075.85" cy="951.30" r="7.2"/>
<circle cx="2076.84" cy="950.56" r="7.2"/>
<circle cx="2076.84" cy="951.76" r="7.2"/>
<circle cx="2077.82" cy="951.02" r="7.2"/>
<circle cx="2077.82" cy="952.22" r="7.2"/>
<circle cx="2078.80" cy="951.48" r="7.2"/>
<circle cx="2078.80" cy="952.68" r="7.2"/>
<circle cx="2079.77" cy="951.94" r="7.2"/>
<circle cx="2079.77" cy="953.14" r="7.2"/>
<circle cx="2080.74" cy="952.40" r="7.2"/>
<circle cx="2080.74" cy="953.60" r="7.2"/>
<circle cx="2081.71" cy="952.85" r="7.2"/>
<circle cx="2081.71" cy="954.05" r="7.2"/>
<circle cx="2082.68" cy="953.30" r="7.2"/>
<circle cx="2082.68" cy="954.50" r="7.2"/>
<circle cx="2083.64" cy="953.75" r="7.2"/>
<circle cx="2083.64" cy="954.95" r="7.2"/>
<circle cx="2084.60" cy="954.20" r="7.2"/>
<circle cx="2084.60" cy="955.40" r="7.2"/>
<circle cx="2085.56" cy="954.64" r="7.2"/>
<circle cx="2085.56" cy="955.84" r="7.2"/>
<circle cx="2086.51" cy="955.09" r="7.2"/>
<circle cx="2086.51" cy="956.29" r="7.2"/>
<circle cx="2087.46" cy="955.53" r="7.2"/>
<circle cx="2087.46" cy="956.73" r="7.2"/>
<circle cx="2088.41" cy="955.97" r="7.2"/>
<circle cx="2088.41" cy="957.17" r="7.2"/>
<circle cx="2089.35" cy="956.41" r="7.2"/>
<circle cx="2089.35" cy="957.61" r="7.2"/>
<circle cx="2090.29" cy="956.85" r="7.2"/>
<circle cx="2090.29" cy="958.05" r="7.2"/>
<circle cx="2091.23" cy="957.28" r="7.2"/>
<circle cx="2091.23" cy="958.48" r="7.2"/>
<circle cx="2092.16" cy="957.72" r="7.2"/>
<circle cx="2092.16" cy="958.92" r="7.2"/>
<circle cx="2093.09" cy="958.15" r="7.2"/>
<circle cx="2093.09" cy="959.35" r="7.2"/>
<circle cx="2094.02" cy="958.58" r="7.2"/>
<circle cx="2094.02" cy="959.78" r="7.2"/>
<circle cx="2094.95" cy="959.01" r="7.2"/>
<circle cx="2094.95" cy="960.21" r="7.2"/>
<circle cx="2095.87" cy="959.43" r="7.2"/>
<circle cx="2095.87" cy="960.63" r="7.2"/>
<circle cx="2096.79" cy="959.86" r="7.2"/>
<circle cx="2096.79" cy="961.06" r="7.2"/>
<circle cx="2097.71" cy="960.28" r="7.2"/>
<circle cx="2097.71" cy="961.48" r="7.2"/>
<circle cx="2098.62" cy="960.71" r="7.2"/>
<circle cx="2098.62" cy="961.91" r="7.2"/>
<circle cx="2099.53" cy="961.13" r="7.2"/>
<circle cx="2099.53" cy="962.33" r="7.2"/>
<circle cx="2100.44" cy="961.55" r="7.2"/>
<circle cx="2100.44" cy="962.75" r="7.2"/>
<circle cx="2101.35" cy="961.96" r="7.2"/>
<circle cx="2101.35" cy="963.16" r="7.2"/>
<circle cx="2102.25" cy="962.38" r="7.2"/>
<circle cx="2102.25" cy="963.58" r="7.2"/>
<circle cx="2103.15" cy="962.79" r="7.2"/>
<circle cx="2103.15" cy="963.99" r="7.2"/>
<circle cx="2104.05" cy="963.21" r="7.2"/>
<circle cx="2104.05" cy="964.41" r="7.2"/>
<circle cx="2104.94" cy="963.62" r="7.2"/>
<circle cx="2104.94" cy="964.82" r="7.2"/>
<circle cx="2105.83" cy="964.03" r="7.2"/>
<circle cx="2105.83" cy="965.23" r="7.2"/>
<circle cx="2106.72" cy="964.44" r="7.2"/>
<circle cx="2106.72" cy="965.64" r="7.2"/>
<circle cx="2107.61" cy="964.84" r="7.2"/>
<circle cx="2107.61" cy="966.04" r="7.2"/>
<circle cx="2108.49" cy="965.25" r="7.2"/>
<circle cx="2108.49" cy="966.45" r="7.2"/>
<circle cx="2109.37" cy="965.65" r="7.2"/>
<circle cx="2109.37" cy="966.85" r="7.2"/>
<circle cx="2110.25" cy="966.05" r="7.2"/>
<circle cx="2110.25" cy="967.25" r="7.2"/>
<circle cx="2111.12" cy="966.45" r="7.2"/>
<circle cx="2111.12" cy="967.65" r="7.2"/>
<circle cx="2112.00" cy="966.85" r="7.2"/>
<circle cx="2112.00" cy="968.05" r="7.2"/>
<circle cx="2112.87" cy="967.25" r="7.2"/>
<circle cx="2112.87" cy="968.45" r="7.2"/>
<circle cx="2113.73" cy="967.65" r="7.2"/>
<circle cx="2113.73" cy="968.85" r="7.2"/>
<circle cx="2114.60" cy="968.04" r="7.2"/>
<circle cx="2114.60" cy="969.24" r="7.2"/>
<circle cx="2115.46" cy="968.43" r="7.2"/>
<circle cx="2115.46" cy="969.63" r="7.2"/>
<circle cx="2116.32" cy="968.83" r="7.2"/>
<circle cx="2116.32" cy="970.03" r="7.2"/>
<circle cx="2117.18" cy="969.22" r="7.2"/>
<circle cx="2117.18" cy="970.42" r="7.2"/>
<circle cx="2118.03" cy="969.61" r="7.2"/>
<circle cx="2118.03" cy="970.81" r="7.2"/>
<circle cx="2118.89" cy="969.99" r="7.2"/>
<circle cx="2118.89" cy="971.19" r="7.2"/>
<circle cx="2119.74" cy="970.38" r="7.2"/>
<circle cx="2119.74" cy="971.58" r="7.2"/>
<circle cx="2120.58" cy="970.76" r="7.2"/>
<circle cx="2120.58" cy="971.96" r="7.2"/>
<circle cx="2121.43" cy="971.15" r="7.2"/>
<circle cx="2121.43" cy="972.35" r="7.2"/>
<circle cx="2122.27" cy="971.53" r="7.2"/>
<circle cx="2122.27" cy="972.73" r="7.2"/>
<circle cx="2123.11" cy="971.91" r="7.2"/>
<circle cx="2123.11" cy="973.11" r="7.2"/>
<circle cx="2123.95" cy="972.29" r="7.2"/>
<circle cx="2123.95" cy="973.49" r="7.2"/>
<circle cx="2124.78" cy="972.67" r="7.2"/>
<circle cx="2124.78" cy="973.87" r="7.2"/>
<circle cx="2125.62" cy="973.04" r="7.2"/>
<circle cx="2125.62" cy="974.24" r="7.2"/>
<circle cx="2126.45" cy="973.42" r="7.2"/>
<circle cx="2126.45" cy="974.62" r="7.2"/>
<circle cx="2127.27" cy="973.79" r="7.2"/>
<circle cx="2127.27" cy="974.99" r="7.2"/>
<circle cx="2128.10" cy="974.17" r="7.2"/>
<circle cx="2128.10" cy="975.37" r="7.2"/>
<circle cx="2128.92" cy="974.54" r="7.2"/>
<circle cx="2128.92" cy="975.74" r="7.2"/>
<circle cx="2129.74" cy="974.91" r="7.2"/>
<circle cx="2129.74" cy="976.11" r="7.2"/>
<circle cx="2130.56" cy="975.28" r="7.2"/>
<circle cx="2130.56" cy="976.48" r="7.2"/>
<circle cx="2131.38" cy="975.64" r="7.2"/>
<circle cx="2131.38" cy="976.84" r="7.2"/>
<circle cx="2132.19" cy="976.01" r="7.2"/>
<circle cx="2132.19" cy="977.21" r="7.2"/>
<circle cx="2133.00" cy="976.38" r="7.2"/>
<circle cx="2133.00" cy="977.58" r="7.2"/>
<circle cx="2133.81" cy="976.74" r="7.2"/>
<circle cx="2133.81" cy="977.94" r="7.2"/>
<circle cx="2134.62" cy="977.10" r="7.2"/>
<circle cx="2134.62" cy="978.30" r="7.2"/>
<circle cx="2135.43" cy="977.46" r="7.2"/>
<circle cx="2135.43" cy="978.66" r="7.2"/>
<circle cx="2136.23" cy="977.82" r="7.2"/>
<circle cx="2136.23" cy="979.02" r="7.2"/>
<circle cx="2137.03" cy="978.18" r="7.2"/>
<circle cx="2137.03" cy="979.38" r="7.2"/>
<circle cx="2137.83" cy="978.54" r="7.2"/>
<circle cx="2137.83" cy="979.74" r="7.2"/>
<circle cx="2138.62" cy="978.90" r="7.2"/>
<circle cx="2138.62" cy="980.10" r="7.2"/>
<circle cx="2139.42" cy="979.25" r="7.2"/>
<circle cx="2139.42" cy="980.45" r="7.2"/>
<circle cx="2140.21" cy="979.61" r="7.2"/>
<circle cx="2140.21" cy="980.81" r="7.2"/>
<circle cx="2141.00" cy="979.96" r="7.2"/>
<circle cx="2141.00" cy="981.16" r="7.2"/>
<circle cx="2141.79" cy="980.31" r="7.2"/>
<circle cx="2141.79" cy="981.51" r="7.2"/>
<circle cx="2142.57" cy="980.66" r="7.2"/>
<circle cx="2142.57" cy="981.86" r="7.2"/>
<circle cx="2143.36" cy="981.01" r="7.2"/>
<circle cx="2143.36" cy="982.21" r="7.2"/>
<circle cx="2144.14" cy="981.36" r="7.2"/>
<circle cx="2144.14" cy="982.56" r="7.2"/>
<circle cx="2144.92" cy="981.70" r="7.2"/>
<circle cx="2144.92" cy="982.90" r="7.2"/>
<circle cx="2145.69" cy="982.05" r="7.2"/>
<circle cx="2145.69" cy="983.25" r="7.2"/>
<circle cx="2146.47" cy="982.39" r="7.2"/>
<circle cx="2146.47" cy="983.59" r="7.2"/>
<circle cx="2147.24" cy="982.74" r="7.2"/>
<circle cx="2147.24" cy="983.94" r="7.2"/>
<circle cx="2148.01" cy="983.08" r="7.2"/>
<circle cx="2148.01" cy="984.28" r="7.2"/>
<circle cx="2148.78" cy="983.42" r="7.2"/>
<circle cx="2148.78" cy="984.62" r="7.2"/>
<circle cx="2149.55" cy="983.76" r="7.2"/>
<circle cx="2149.55" cy="984.96" r="7.2"/>
<circle cx="2150.31" cy="984.10" r="7.2"/>
<circle cx="2150.31" cy="985.30" r="7.2"/>
<circle cx="2151.07" cy="984.44" r="7.2"/>
<circle cx="2151.07" cy="985.64" r="7.2"/>
<circle cx="2151.83" cy="984.78" r="7.2"/>
<circle cx="2151.83" cy="985.98" r="7.2"/>
<circle cx="2152.59" cy="985.11" r="7.2"/>
<circle cx="2152.59" cy="986.31" r="7.2"/>
<circle cx="2153.35" cy="985.45" r="7.2"/>
<circle cx="2153.35" cy="986.65" r="7.2"/>
<circle cx="2154.10" cy="985.78" r="7.2"/>
<circle cx="2154.10" cy="986.98" r="7.2"/>
<circle cx="2154.86" cy="986.11" r="7.2"/>
<circle cx="2154.86" cy="987.31" r="7.2"/>
<circle cx="2155.61" cy="986.44" r="7.2"/>
<circle cx="2155.61" cy="987.64" r="7.2"/>
<circle cx="2156.36" cy="986.77" r="7.2"/>
<circle cx="2156.36" cy="987.97" r="7.2"/>
<circle cx="2157.10" cy="987.10" r="7.2"/>
<circle cx="2157.10" cy="988.30" r="7.2"/>
<circle cx="2157.85" cy="987.43" r="7.2"/>
<circle cx="2157.85" cy="988.63" r="7.2"/>
<circle cx="2158.59" cy="987.76" r="7.2"/>
<circle cx="2158.59" cy="988.96" r="7.2"/>
<circle cx="2159.33" cy="988.08" r="7.2"/>
<circle cx="2159.33" cy="989.28" r="7.2"/>
<circle cx="2160.07" cy="988.41" r="7.2"/>
<circle cx="2160.07" cy="989.61" r="7.2"/>
<circle cx="2160.81" cy="988.73" r="7.2"/>
<circle cx="2160.81" cy="989.93" r="7.2"/>
<circle cx="2161.55" cy="989.05" r="7.2"/>
<circle cx="2161.55" cy="990.25" r="7.2"/>
<circle cx="2162.28" cy="989.38" r="7.2"/>
<circle cx="2162.28" cy="990.58" r="7.2"/>
<circle cx="2163.01" cy="989.70" r="7.2"/>
<circle cx="2163.01" cy="990.90" r="7.2"/>
<circle cx="2163.74" cy="990.02" r="7.2"/>
<circle cx="2163.74" cy="991.22" r="7.2"/>
<circle cx="2164.47" cy="990.34" r="7.2"/>
<circle cx="2164.47" cy="991.54" r="7.2"/>
<circle cx="2165.20" cy="990.65" r="7.2"/>
<circle cx="2165.20" cy="991.85" r="7.2"/>
<circle cx="2165.92" cy="990.97" r="7.2"/>
<circle cx="2165.92" cy="992.17" r="7.2"/>
<circle cx="2166.64" cy="991.29" r="7.2"/>
<circle cx="2166.64" cy="992.49" r="7.2"/>
<circle cx="2167.36" cy="991.60" r="7.2"/>
<circle cx="2167.36" cy="992.80" r="7.2"/>
<circle cx="2168.08" cy="991.92" r="7.2"/>
<circle cx="2168.08" cy="993.12" r="7.2"/>
<circle cx="2168.80" cy="992.23" r="7.2"/>
<circle cx="2168.80" cy="993.43" r="7.2"/>
<circle cx="2169.52" cy="992.54" r="7.2"/>
<circle cx="2169.52" cy="993.74" r="7.2"/>
<circle cx="2170.23" cy="992.85" r="7.2"/>
<circle cx="2170.23" cy="994.05" r="7.2"/>
<circle cx="2170.94" cy="993.16" r="7.2"/>
<circle cx="2170.94" cy="994.36" r="7.2"/>
<circle cx="2171.65" cy="993.47" r="7.2"/>
<circle cx="2171.65" cy="994.67" r="7.2"/>
<circle cx="2172.36" cy="993.78" r="7.2"/>
<circle cx="2172.36" cy="994.98" r="7.2"/>
<circle cx="2173.07" cy="994.09" r="7.2"/>
<circle cx="2173.07" cy="995.29" r="7.2"/>
<circle cx="2173.77" cy="994.39" r="7.2"/>
<circle cx="2173.77" cy="995.59" r="7.2"/>
<circle cx="2174.48" cy="994.70" r="7.2"/>
<circle cx="2174.48" cy="995.90" r="7.2"/>
<circle cx="2175.18" cy="995.00" r="7.2"/>
<circle cx="2175.18" cy="996.20" r="7.2"/>
<circle cx="2175.88" cy="995.31" r="7.2"/>
<circle cx="2175.88" cy="996.51" r="7.2"/>
<circle cx="2176.58" cy="995.61" r="7.2"/>
<circle cx="2176.58" cy="996.81" r="7.2"/>
<circle cx="2177.27" cy="995.91" r="7.2"/>
<circle cx="2177.27" cy="997.11" r="7.2"/>
<circle cx="2177.97" cy="996.21" r="7.2"/>
<circle cx="2177.97" cy="997.41" r="7.2"/>
<circle cx="2178.66" cy="996.51" r="7.2"/>
<circle cx="2178.66" cy="997.71" r="7.2"/>
<circle cx="2179.36" cy="996.81" r="7.2"/>
<circle cx="2179.36" cy="998.01" r="7.2"/>
<circle cx="2180.05" cy="997.11" r="7.2"/>
<circle cx="2180.05" cy="998.31" r="7.2"/>
<circle cx="2180.73" cy="997.40" r="7.2"/>
<circle cx="2180.73" cy="998.60" r="7.2"/>
<circle cx="2181.42" cy="997.70" r="7.2"/>
<circle cx="2181.42" cy="998.90" r="7.2"/>
<circle cx="2182.11" cy="998.00" r="7.2"/>
<circle cx="2182.11" cy="999.20" r="7.2"/>
<circle cx="2182.79" cy="998.29" r="7.2"/>
<circle cx="2182.79" cy="999.49" r="7.2"/>
<circle cx="2183.47" cy="998.58" r="7.2"/>
<circle cx="2183.47" cy="999.78" r="7.2"/>
<circle cx="2184.15" cy="998.88" r="7.2"/>
<circle cx="2184.15" cy="1000.08" r="7.2"/>
<circle cx="2184.83" cy="999.17" r="7.2"/>
<circle cx="2184.83" cy="1000.37" r="7.2"/>
<circle cx="2185.51" cy="999.46" r="7.2"/>
<circle cx="2185.51" cy="1000.66" r="7.2"/>
<circle cx="2186.18" cy="999.75" r="7.2"/>
<circle cx="2186.18" cy="1000.95" r="7.2"/>
<circle cx="2186.86" cy="1000.04" r="7.2"/>
<circle cx="2186.86" cy="1001.24" r="7.2"/>
<circle cx="2187.53" cy="1000.33" r="7.2"/>
<circle cx="2187.53" cy="1001.53" r="7.2"/>
<circle cx="2188.20" cy="1000.61" r="7.2"/>
<circle cx="2188.20" cy="1001.81" r="7.2"/>
<circle cx="2188.87" cy="1000.90" r="7.2"/>
<circle cx="2188.87" cy="1002.10" r="7.2"/>
<circle cx="2189.54" cy="1001.19" r="7.2"/>
<circle cx="2189.54" cy="1002.39" r="7.2"/>
<circle cx="2190.20" cy="1001.47" r="7.2"/>
<circle cx="2190.20" cy="1002.67" r="7.2"/>
<circle cx="2190.87" cy="1001.76" r="7.2"/>
<circle cx="2190.87" cy="1002.96" r="7.2"/>
<circle cx="2191.53" cy="1002.04" r="7.2"/>
<circle cx="2191.53" cy="1003.24" r="7.2"/>
<circle cx="2192.19" cy="1002.32" r="7.2"/>
<circle cx="2192.19" cy="1003.52" r="7.2"/>
<circle cx="2192.86" cy="1002.60" r="7.2"/>
<circle cx="2192.86" cy="1003.80" r="7.2"/>
<circle cx="2193.51" cy="1002.88" r="7.2"/>
<circle cx="2193.51" cy="1004.08" r="7.2"/>
<circle cx="2194.17" cy="1003.16" r="7.2"/>
<circle cx="2194.17" cy="1004.36" r="7.2"/>
<circle cx="2194.83" cy="1003.44" r="7.2"/>
<circle cx="2194.83" cy="1004.64" r="7.2"/>
<circle cx="2195.48" cy="1003.72" r="7.2"/>
<circle cx="2195.48" cy="1004.92" r="7.2"/>
<circle cx="2196.13" cy="1004.00" r="7.2"/>
<circle cx="2196.13" cy="1005.20" r="7.2"/>
<circle cx="2196.79" cy="1004.28" r="7.2"/>
<circle cx="2196.79" cy="1005.48" r="7.2"/>
<circle cx="2197.44" cy="1004.55" r="7.2"/>
<circle cx="2197.44" cy="1005.75" r="7.2"/>
<circle cx="2198.08" cy="1004.83" r="7.2"/>
<circle cx="2198.08" cy="1006.03" r="7.2"/>
<circle cx="2198.73" cy="1005.10" r="7.2"/>
<circle cx="2198.73" cy="1006.30" r="7.2"/>
<circle cx="2199.38" cy="1005.38" r="7.2"/>
<circle cx="2199.38" cy="1006.58" r="7.2"/>
<circle cx="2200.02" cy="1005.65" r="7.2"/>
<circle cx="2200.02" cy="1006.85" r="7.2"/>
<circle cx="2200.66" cy="1005.92" r="7.2"/>
<circle cx="2200.66" cy="1007.12" r="7.2"/>
<circle cx="2201.30" cy="1006.19" r="7.2"/>
<circle cx="2201.30" cy="1007.39" r="7.2"/>
<circle cx="2201.94" cy="1006.46" r="7.2"/>
<circle cx="2201.94" cy="1007.66" r="7.2"/>
<circle cx="2202.58" cy="1006.73" r="7.2"/>
<circle cx="2202.58" cy="1007.93" r="7.2"/>
<circle cx="2203.22" cy="1007.00" r="7.2"/>
<circle cx="2203.22" cy="1008.20" r="7.2"/>
<circle cx="2203.86" cy="1007.27" r="7.2"/>
<circle cx="2203.86" cy="1008.47" r="7.2"/>
<circle cx="2204.49" cy="1007.54" r="7.2"/>
<circle cx="2204.49" cy="1008.74" r="7.2"/>
<circle cx="2205.12" cy="1007.81" r="7.2"/>
<circle cx="2205.12" cy="1009.01" r="7.2"/>
<circle cx="2205.75" cy="1008.07" r="7.2"/>
<circle cx="2205.75" cy="1009.27" r="7.2"/>
<circle cx="2206.38" cy="1008.34" r="7.2"/>
<circle cx="2206.38" cy="1009.54" r="7.2"/>
<circle cx="2207.01" cy="1008.60" r="7.2"/>
<circle cx="2207.01" cy="1009.80" r="7.2"/>
<circle cx="2207.64" cy="1008.87" r="7.2"/>
<circle cx="2207.64" cy="1010.07" r="7.2"/>
<circle cx="2208.27" cy="1009.13" r="7.2"/>
<circle cx="2208.27" cy="1010.33" r="7.2"/>
<circle cx="2208.89" cy="1009.39" r="7.2"/>
<circle cx="2208.89" cy="1010.59" r="7.2"/>
<circle cx="2209.52" cy="1009.65" r="7.2"/>
<circle cx="2209.52" cy="1010.85" r="7.2"/>
<circle cx="2210.14" cy="1009.92" r="7.2"/>
<circle cx="2210.14" cy="1011.12" r="7.2"/>
<circle cx="2210.76" cy="1010.18" r="7.2"/>
<circle cx="2210.76" cy="1011.38" r="7.2"/>
<circle cx="2211.38" cy="1010.44" r="7.2"/>
<circle cx="2211.38" cy="1011.64" r="7.2"/>
<circle cx="2212.00" cy="1010.69" r="7.2"/>
<circle cx="2212.00" cy="1011.89" r="7.2"/>
<circle cx="2212.61" cy="1010.95" r="7.2"/>
<circle cx="2212.61" cy="1012.15" r="7.2"/>
<circle cx="2213.23" cy="1011.21" r="7.2"/>
<circle cx="2213.23" cy="1012.41" r="7.2"/>
<circle cx="2213.84" cy="1011.47" r="7.2"/>
<circle cx="2213.84" cy="1012.67" r="7.2"/>
<circle cx="2214.46" cy="1011.72" r="7.2"/>
<circle cx="2214.46" cy="1012.92" r="7.2"/>
<circle cx="2215.07" cy="1011.98" r="7.2"/>
<circle cx="2215.07" cy="1013.18" r="7.2"/>
<circle cx="2215.68" cy="1012.23" r="7.2"/>
<circle cx="2215.68" cy="1013.43" r="7.2"/>
<circle cx="2216.29" cy="1012.49" r="7.2"/>
<circle cx="2216.29" cy="1013.69" r="7.2"/>
<circle cx="2216.89" cy="1012.74" r="7.2"/>
<circle cx="2216.89" cy="1013.94" r="7.2"/>
<circle cx="2217.50" cy="1012.99" r="7.2"/>
<circle cx="2217.50" cy="1014.19" r="7.2"/>
<circle cx="2218.11" cy="1013.25" r="7.2"/>
<circle cx="2218.11" cy="1014.45" r="7.2"/>
<circle cx="2218.71" cy="1013.50" r="7.2"/>
<circle cx="2218.71" cy="1014.70" r="7.2"/>
<circle cx="2219.31" cy="1013.75" r="7.2"/>
<circle cx="2219.31" cy="1014.95" r="7.2"/>
<circle cx="2219.91" cy="1014.00" r="7.2"/>
<circle cx="2219.91" cy="1015.20" r="7.2"/>
<circle cx="2220.51" cy="1014.25" r="7.2"/>
<circle cx="2220.51" cy="1015.45" r="7.2"/>
<circle cx="2221.11" cy="1014.50" r="7.2"/>
<circle cx="2221.11" cy="1015.70" r="7.2"/>
<circle cx="2221.71" cy="1014.74" r="7.2"/>
<circle cx="2221.71" cy="1015.94" r="7.2"/>
<circle cx="2222.31" cy="1014.99" r="7.2"/>
<circle cx="2222.31" cy="1016.19" r="7.2"/>
<circle cx="2222.90" cy="1015.24" r="7.2"/>
<circle cx="2222.90" cy="1016.44" r="7.2"/>
<circle cx="2223.50" cy="1015.48" r="7.2"/>
<circle cx="2223.50" cy="1016.68" r="7.2"/>
<circle cx="2224.09" cy="1015.73" r="7.2"/>
<circle cx="2224.09" cy="1016.93" r="7.2"/>
<circle cx="2224.68" cy="1015.97" r="7.2"/>
<circle cx="2224.68" cy="1017.17" r="7.2"/>
<circle cx="2225.27" cy="1016.22" r="7.2"/>
<circle cx="2225.27" cy="1017.42" r="7.2"/>
<circle cx="2225.86" cy="1016.46" r="7.2"/>
<circle cx="2225.86" cy="1017.66" r="7.2"/>
<circle cx="2226.45" cy="1016.70" r="7.2"/>
<circle cx="2226.45" cy="1017.90" r="7.2"/>
<circle cx="2227.04" cy="1016.95" r="7.2"/>
<circle cx="2227.04" cy="1018.15" r="7.2"/>
<circle cx="2227.62" cy="1017.19" r="7.2"/>
<circle cx="2227.62" cy="1018.39" r="7.2"/>
<circle cx="2228.21" cy="1017.43" r="7.2"/>
<circle cx="2228.21" cy="1018.63" r="7.2"/>
<circle cx="2228.79" cy="1017.67" r="7.2"/>
<circle cx="2228.79" cy="1018.87" r="7.2"/>
<circle cx="2229.37" cy="1017.91" r="7.2"/>
<circle cx="2229.37" cy="1019.11" r="7.2"/>
<circle cx="2229.95" cy="1018.15" r="7.2"/>
<circle cx="2229.95" cy="1019.35" r="7.2"/>
</g>
<g stroke="#FF0000" stroke-width="8" stroke-linecap="round">
<line x1="789" y1="329" x2="789" y2="378"/>
<line x1="883.4" y1="371" x2="883.4" y2="404"/>
<line x1="1069.4" y1="383" x2="1069.4" y2="406"/>
<line x1="1256.5" y1="415" x2="1256.5" y2="437"/>
</g>
<g fill="#FF0000" stroke="#000" stroke-width="3">
<rect x="772.5" y="334.5" width="34" height="34"/>
<rect x="866.4" y="370.4" width="34" height="34"/>
<rect x="1052.4" y="377.4" width="34" height="34"/>
<rect x="1239.5" y="409.0" width="34" height="34"/>
</g>
<g stroke="#FF0000" stroke-width="8" stroke-linecap="round">
<line x1="736" y1="351" x2="835" y2="351"/>
<line x1="845" y1="387.4" x2="918" y2="387.4"/>
<line x1="1041" y1="395" x2="1100" y2="395"/>
<line x1="1233" y1="426" x2="1280" y2="426"/>
</g>
<g fill="none" stroke="#FF0000" stroke-width="3.3">
<rect x="419.15" y="70.77" width="14.7" height="14.7"/>
<rect x="620.30" y="148.53" width="14.7" height="14.7"/>
<rect x="737.96" y="198.47" width="14.7" height="14.7"/>
<rect x="821.45" y="234.69" width="14.7" height="14.7"/>
<rect x="886.20" y="262.86" width="14.7" height="14.7"/>
<rect x="939.11" y="285.75" width="14.7" height="14.7"/>
<rect x="983.84" y="304.93" width="14.7" height="14.7"/>
<rect x="1022.59" y="321.35" width="14.7" height="14.7"/>
<rect x="1056.77" y="335.65" width="14.7" height="14.7"/>
<rect x="1087.35" y="348.27" width="14.7" height="14.7"/>
<rect x="1115.01" y="359.53" width="14.7" height="14.7"/>
<rect x="1140.26" y="369.67" width="14.7" height="14.7"/>
<rect x="1163.49" y="378.86" width="14.7" height="14.7"/>
<rect x="1184.99" y="387.25" width="14.7" height="14.7"/>
<rect x="1205.01" y="394.96" width="14.7" height="14.7"/>
<rect x="1223.74" y="402.06" width="14.7" height="14.7"/>
<rect x="1241.34" y="408.65" width="14.7" height="14.7"/>
<rect x="1257.92" y="414.77" width="14.7" height="14.7"/>
<rect x="1273.61" y="420.49" width="14.7" height="14.7"/>
<rect x="1288.50" y="425.84" width="14.7" height="14.7"/>
<rect x="1302.66" y="430.86" width="14.7" height="14.7"/>
<rect x="1316.16" y="435.59" width="14.7" height="14.7"/>
<rect x="1329.06" y="440.05" width="14.7" height="14.7"/>
<rect x="1341.41" y="444.27" width="14.7" height="14.7"/>
<rect x="1353.25" y="448.26" width="14.7" height="14.7"/>
<rect x="1364.64" y="452.05" width="14.7" height="14.7"/>
<rect x="1375.59" y="455.66" width="14.7" height="14.7"/>
<rect x="1386.14" y="459.09" width="14.7" height="14.7"/>
<rect x="1396.32" y="462.37" width="14.7" height="14.7"/>
<rect x="1406.16" y="465.49" width="14.7" height="14.7"/>
<rect x="1415.68" y="468.48" width="14.7" height="14.7"/>
<rect x="1424.89" y="471.35" width="14.7" height="14.7"/>
<rect x="1433.82" y="474.09" width="14.7" height="14.7"/>
<rect x="1442.48" y="476.72" width="14.7" height="14.7"/>
<rect x="1450.90" y="479.25" width="14.7" height="14.7"/>
<rect x="1459.07" y="481.69" width="14.7" height="14.7"/>
<rect x="1467.02" y="484.03" width="14.7" height="14.7"/>
<rect x="1474.76" y="486.28" width="14.7" height="14.7"/>
<rect x="1482.30" y="488.46" width="14.7" height="14.7"/>
<rect x="1489.65" y="490.56" width="14.7" height="14.7"/>
<rect x="1496.81" y="492.58" width="14.7" height="14.7"/>
<rect x="1503.81" y="494.54" width="14.7" height="14.7"/>
<rect x="1510.63" y="496.43" width="14.7" height="14.7"/>
<rect x="1517.31" y="498.27" width="14.7" height="14.7"/>
<rect x="1523.83" y="500.04" width="14.7" height="14.7"/>
<rect x="1530.20" y="501.76" width="14.7" height="14.7"/>
<rect x="1536.45" y="503.43" width="14.7" height="14.7"/>
<rect x="1542.56" y="505.04" width="14.7" height="14.7"/>
<rect x="1548.54" y="506.61" width="14.7" height="14.7"/>
<rect x="1554.40" y="508.13" width="14.7" height="14.7"/>
<rect x="1560.15" y="509.61" width="14.7" height="14.7"/>
<rect x="1565.78" y="511.05" width="14.7" height="14.7"/>
<rect x="1571.31" y="512.45" width="14.7" height="14.7"/>
<rect x="1576.74" y="513.81" width="14.7" height="14.7"/>
<rect x="1582.06" y="515.14" width="14.7" height="14.7"/>
<rect x="1587.29" y="516.43" width="14.7" height="14.7"/>
<rect x="1592.43" y="517.69" width="14.7" height="14.7"/>
<rect x="1597.47" y="518.91" width="14.7" height="14.7"/>
<rect x="1602.43" y="520.10" width="14.7" height="14.7"/>
<rect x="1607.31" y="521.27" width="14.7" height="14.7"/>
<rect x="1612.11" y="522.41" width="14.7" height="14.7"/>
<rect x="1616.83" y="523.51" width="14.7" height="14.7"/>
<rect x="1621.47" y="524.60" width="14.7" height="14.7"/>
<rect x="1626.04" y="525.65" width="14.7" height="14.7"/>
<rect x="1630.54" y="526.69" width="14.7" height="14.7"/>
<rect x="1634.97" y="527.70" width="14.7" height="14.7"/>
<rect x="1639.33" y="528.68" width="14.7" height="14.7"/>
<rect x="1643.63" y="529.65" width="14.7" height="14.7"/>
<rect x="1647.87" y="530.59" width="14.7" height="14.7"/>
<rect x="1652.04" y="531.52" width="14.7" height="14.7"/>
<rect x="1656.16" y="532.42" width="14.7" height="14.7"/>
<rect x="1660.22" y="533.31" width="14.7" height="14.7"/>
<rect x="1664.22" y="534.17" width="14.7" height="14.7"/>
<rect x="1668.17" y="535.02" width="14.7" height="14.7"/>
<rect x="1672.07" y="535.85" width="14.7" height="14.7"/>
<rect x="1675.91" y="536.67" width="14.7" height="14.7"/>
<rect x="1679.70" y="537.47" width="14.7" height="14.7"/>
<rect x="1683.45" y="538.25" width="14.7" height="14.7"/>
<rect x="1687.14" y="539.02" width="14.7" height="14.7"/>
<rect x="1690.79" y="539.77" width="14.7" height="14.7"/>
<rect x="1694.40" y="540.51" width="14.7" height="14.7"/>
<rect x="1697.96" y="541.23" width="14.7" height="14.7"/>
<rect x="1701.48" y="541.95" width="14.7" height="14.7"/>
<rect x="1704.95" y="542.64" width="14.7" height="14.7"/>
<rect x="1708.39" y="543.33" width="14.7" height="14.7"/>
<rect x="1711.78" y="544.00" width="14.7" height="14.7"/>
<rect x="1715.14" y="544.66" width="14.7" height="14.7"/>
<rect x="1718.45" y="545.31" width="14.7" height="14.7"/>
<rect x="1721.73" y="545.95" width="14.7" height="14.7"/>
<rect x="1724.97" y="546.58" width="14.7" height="14.7"/>
<rect x="1728.18" y="547.20" width="14.7" height="14.7"/>
<rect x="1731.35" y="547.80" width="14.7" height="14.7"/>
<rect x="1734.49" y="548.40" width="14.7" height="14.7"/>
<rect x="1737.59" y="548.98" width="14.7" height="14.7"/>
<rect x="1740.66" y="549.56" width="14.7" height="14.7"/>
<rect x="1743.70" y="550.13" width="14.7" height="14.7"/>
<rect x="1746.71" y="550.68" width="14.7" height="14.7"/>
<rect x="1749.69" y="551.23" width="14.7" height="14.7"/>
<rect x="1752.63" y="551.77" width="14.7" height="14.7"/>
<rect x="1755.55" y="552.31" width="14.7" height="14.7"/>
<rect x="1758.44" y="552.83" width="14.7" height="14.7"/>
<rect x="1761.30" y="553.34" width="14.7" height="14.7"/>
<rect x="1764.13" y="553.85" width="14.7" height="14.7"/>
<rect x="1766.93" y="554.35" width="14.7" height="14.7"/>
<rect x="1769.71" y="554.84" width="14.7" height="14.7"/>
<rect x="1772.46" y="555.33" width="14.7" height="14.7"/>
<rect x="1775.18" y="555.80" width="14.7" height="14.7"/>
<rect x="1777.88" y="556.27" width="14.7" height="14.7"/>
<rect x="1780.56" y="556.74" width="14.7" height="14.7"/>
<rect x="1783.21" y="557.20" width="14.7" height="14.7"/>
<rect x="1785.83" y="557.65" width="14.7" height="14.7"/>
<rect x="1788.44" y="558.09" width="14.7" height="14.7"/>
<rect x="1791.02" y="558.53" width="14.7" height="14.7"/>
<rect x="1793.57" y="558.96" width="14.7" height="14.7"/>
<rect x="1796.11" y="559.38" width="14.7" height="14.7"/>
<rect x="1798.62" y="559.80" width="14.7" height="14.7"/>
<rect x="1801.11" y="560.22" width="14.7" height="14.7"/>
<rect x="1803.58" y="560.63" width="14.7" height="14.7"/>
<rect x="1806.03" y="561.03" width="14.7" height="14.7"/>
<rect x="1808.46" y="561.43" width="14.7" height="14.7"/>
<rect x="1810.87" y="561.82" width="14.7" height="14.7"/>
<rect x="1813.26" y="562.20" width="14.7" height="14.7"/>
<rect x="1815.62" y="562.59" width="14.7" height="14.7"/>
<rect x="1817.97" y="562.96" width="14.7" height="14.7"/>
<rect x="1820.31" y="563.34" width="14.7" height="14.7"/>
<rect x="1822.62" y="563.70" width="14.7" height="14.7"/>
<rect x="1824.91" y="564.07" width="14.7" height="14.7"/>
<rect x="1827.19" y="564.42" width="14.7" height="14.7"/>
<rect x="1829.45" y="564.78" width="14.7" height="14.7"/>
<rect x="1831.69" y="565.13" width="14.7" height="14.7"/>
<rect x="1833.91" y="565.47" width="14.7" height="14.7"/>
<rect x="1836.12" y="565.81" width="14.7" height="14.7"/>
<rect x="1838.31" y="566.15" width="14.7" height="14.7"/>
<rect x="1840.48" y="566.48" width="14.7" height="14.7"/>
<rect x="1842.64" y="566.81" width="14.7" height="14.7"/>
<rect x="1844.78" y="567.13" width="14.7" height="14.7"/>
<rect x="1846.91" y="567.45" width="14.7" height="14.7"/>
<rect x="1849.02" y="567.77" width="14.7" height="14.7"/>
<rect x="1851.11" y="568.08" width="14.7" height="14.7"/>
<rect x="1853.19" y="568.39" width="14.7" height="14.7"/>
<rect x="1855.26" y="568.70" width="14.7" height="14.7"/>
<rect x="1857.31" y="569.00" width="14.7" height="14.7"/>
<rect x="1859.35" y="569.30" width="14.7" height="14.7"/>
<rect x="1861.37" y="569.60" width="14.7" height="14.7"/>
<rect x="1863.38" y="569.89" width="14.7" height="14.7"/>
<rect x="1865.37" y="570.18" width="14.7" height="14.7"/>
<rect x="1867.35" y="570.46" width="14.7" height="14.7"/>
<rect x="1869.32" y="570.74" width="14.7" height="14.7"/>
<rect x="1871.27" y="571.02" width="14.7" height="14.7"/>
<rect x="1873.21" y="571.30" width="14.7" height="14.7"/>
<rect x="1875.14" y="571.57" width="14.7" height="14.7"/>
<rect x="1877.06" y="571.84" width="14.7" height="14.7"/>
<rect x="1878.96" y="572.11" width="14.7" height="14.7"/>
<rect x="1880.85" y="572.38" width="14.7" height="14.7"/>
<rect x="1882.73" y="572.64" width="14.7" height="14.7"/>
<rect x="1884.60" y="572.90" width="14.7" height="14.7"/>
<rect x="1886.45" y="573.15" width="14.7" height="14.7"/>
<rect x="1888.29" y="573.41" width="14.7" height="14.7"/>
<rect x="1890.12" y="573.66" width="14.7" height="14.7"/>
<rect x="1891.94" y="573.91" width="14.7" height="14.7"/>
<rect x="1893.75" y="574.15" width="14.7" height="14.7"/>
<rect x="1895.55" y="574.40" width="14.7" height="14.7"/>
<rect x="1897.33" y="574.64" width="14.7" height="14.7"/>
<rect x="1899.11" y="574.87" width="14.7" height="14.7"/>
<rect x="1900.87" y="575.11" width="14.7" height="14.7"/>
<rect x="1902.63" y="575.34" width="14.7" height="14.7"/>
<rect x="1904.37" y="575.58" width="14.7" height="14.7"/>
<rect x="1906.10" y="575.80" width="14.7" height="14.7"/>
<rect x="1907.82" y="576.03" width="14.7" height="14.7"/>
<rect x="1909.54" y="576.26" width="14.7" height="14.7"/>
<rect x="1911.24" y="576.48" width="14.7" height="14.7"/>
<rect x="1912.93" y="576.70" width="14.7" height="14.7"/>
<rect x="1914.61" y="576.92" width="14.7" height="14.7"/>
<rect x="1916.29" y="577.13" width="14.7" height="14.7"/>
<rect x="1917.95" y="577.35" width="14.7" height="14.7"/>
<rect x="1919.60" y="577.56" width="14.7" height="14.7"/>
<rect x="1921.25" y="577.77" width="14.7" height="14.7"/>
<rect x="1922.88" y="577.98" width="14.7" height="14.7"/>
<rect x="1924.51" y="578.18" width="14.7" height="14.7"/>
<rect x="1926.12" y="578.39" width="14.7" height="14.7"/>
<rect x="1927.73" y="578.59" width="14.7" height="14.7"/>
<rect x="1929.33" y="578.79" width="14.7" height="14.7"/>
<rect x="1930.92" y="578.99" width="14.7" height="14.7"/>
<rect x="1932.50" y="579.19" width="14.7" height="14.7"/>
<rect x="1934.07" y="579.38" width="14.7" height="14.7"/>
<rect x="1935.64" y="579.58" width="14.7" height="14.7"/>
<rect x="1937.19" y="579.77" width="14.7" height="14.7"/>
<rect x="1938.74" y="579.96" width="14.7" height="14.7"/>
<rect x="1940.28" y="580.14" width="14.7" height="14.7"/>
<rect x="1941.81" y="580.33" width="14.7" height="14.7"/>
<rect x="1943.34" y="580.52" width="14.7" height="14.7"/>
<rect x="1944.85" y="580.70" width="14.7" height="14.7"/>
<rect x="1946.36" y="580.88" width="14.7" height="14.7"/>
<rect x="1947.86" y="581.06" width="14.7" height="14.7"/>
<rect x="1949.35" y="581.24" width="14.7" height="14.7"/>
<rect x="1950.84" y="581.42" width="14.7" height="14.7"/>
<rect x="1952.31" y="581.59" width="14.7" height="14.7"/>
<rect x="1953.78" y="581.77" width="14.7" height="14.7"/>
<rect x="1955.24" y="581.94" width="14.7" height="14.7"/>
<rect x="1956.70" y="582.11" width="14.7" height="14.7"/>
<rect x="1958.15" y="582.28" width="14.7" height="14.7"/>
<rect x="1959.59" y="582.45" width="14.7" height="14.7"/>
<rect x="1961.02" y="582.62" width="14.7" height="14.7"/>
<rect x="1962.44" y="582.78" width="14.7" height="14.7"/>
<rect x="1963.86" y="582.95" width="14.7" height="14.7"/>
<rect x="1965.28" y="583.11" width="14.7" height="14.7"/>
<rect x="1966.68" y="583.27" width="14.7" height="14.7"/>
<rect x="1968.08" y="583.43" width="14.7" height="14.7"/>
<rect x="1969.47" y="583.59" width="14.7" height="14.7"/>
<rect x="1970.86" y="583.75" width="14.7" height="14.7"/>
<rect x="1972.24" y="583.90" width="14.7" height="14.7"/>
<rect x="1973.61" y="584.06" width="14.7" height="14.7"/>
<rect x="1974.97" y="584.21" width="14.7" height="14.7"/>
<rect x="1976.33" y="584.36" width="14.7" height="14.7"/>
<rect x="1977.69" y="584.52" width="14.7" height="14.7"/>
<rect x="1979.03" y="584.67" width="14.7" height="14.7"/>
<rect x="1980.37" y="584.81" width="14.7" height="14.7"/>
<rect x="1981.71" y="584.96" width="14.7" height="14.7"/>
<rect x="1983.03" y="585.11" width="14.7" height="14.7"/>
<rect x="1984.36" y="585.26" width="14.7" height="14.7"/>
<rect x="1985.67" y="585.40" width="14.7" height="14.7"/>
<rect x="1986.98" y="585.54" width="14.7" height="14.7"/>
<rect x="1988.29" y="585.69" width="14.7" height="14.7"/>
<rect x="1989.59" y="585.83" width="14.7" height="14.7"/>
<rect x="1990.88" y="585.97" width="14.7" height="14.7"/>
<rect x="1992.17" y="586.11" width="14.7" height="14.7"/>
<rect x="1993.45" y="586.24" width="14.7" height="14.7"/>
<rect x="1994.72" y="586.38" width="14.7" height="14.7"/>
<rect x="1995.99" y="586.52" width="14.7" height="14.7"/>
<rect x="1997.26" y="586.65" width="14.7" height="14.7"/>
<rect x="1998.52" y="586.79" width="14.7" height="14.7"/>
<rect x="1999.77" y="586.92" width="14.7" height="14.7"/>
<rect x="2001.02" y="587.05" width="14.7" height="14.7"/>
<rect x="2002.26" y="587.18" width="14.7" height="14.7"/>
<rect x="2003.50" y="587.31" width="14.7" height="14.7"/>
<rect x="2004.73" y="587.44" width="14.7" height="14.7"/>
<rect x="2005.96" y="587.57" width="14.7" height="14.7"/>
<rect x="2007.18" y="587.70" width="14.7" height="14.7"/>
<rect x="2008.40" y="587.82" width="14.7" height="14.7"/>
<rect x="2009.61" y="587.95" width="14.7" height="14.7"/>
<rect x="2010.81" y="588.08" width="14.7" height="14.7"/>
<rect x="2012.02" y="588.20" width="14.7" height="14.7"/>
<rect x="2013.21" y="588.32" width="14.7" height="14.7"/>
<rect x="2014.40" y="588.44" width="14.7" height="14.7"/>
<rect x="2015.59" y="588.57" width="14.7" height="14.7"/>
<rect x="2016.77" y="588.69" width="14.7" height="14.7"/>
<rect x="2017.95" y="588.81" width="14.7" height="14.7"/>
<rect x="2019.12" y="588.92" width="14.7" height="14.7"/>
<rect x="2020.29" y="589.04" width="14.7" height="14.7"/>
<rect x="2021.45" y="589.16" width="14.7" height="14.7"/>
<rect x="2022.61" y="589.28" width="14.7" height="14.7"/>
<rect x="2023.77" y="589.39" width="14.7" height="14.7"/>
<rect x="2024.92" y="589.51" width="14.7" height="14.7"/>
<rect x="2026.06" y="589.62" width="14.7" height="14.7"/>
<rect x="2027.20" y="589.73" width="14.7" height="14.7"/>
<rect x="2028.34" y="589.85" width="14.7" height="14.7"/>
<rect x="2029.47" y="589.96" width="14.7" height="14.7"/>
<rect x="2030.59" y="590.07" width="14.7" height="14.7"/>
<rect x="2031.72" y="590.18" width="14.7" height="14.7"/>
<rect x="2032.84" y="590.29" width="14.7" height="14.7"/>
<rect x="2033.95" y="590.40" width="14.7" height="14.7"/>
<rect x="2035.06" y="590.50" width="14.7" height="14.7"/>
<rect x="2036.16" y="590.61" width="14.7" height="14.7"/>
<rect x="2037.27" y="590.72" width="14.7" height="14.7"/>
<rect x="2038.36" y="590.82" width="14.7" height="14.7"/>
<rect x="2039.46" y="590.93" width="14.7" height="14.7"/>
<rect x="2040.54" y="591.03" width="14.7" height="14.7"/>
<rect x="2041.63" y="591.14" width="14.7" height="14.7"/>
<rect x="2042.71" y="591.24" width="14.7" height="14.7"/>
<rect x="2043.79" y="591.34" width="14.7" height="14.7"/>
<rect x="2044.86" y="591.45" width="14.7" height="14.7"/>
<rect x="2045.93" y="591.55" width="14.7" height="14.7"/>
<rect x="2046.99" y="591.65" width="14.7" height="14.7"/>
<rect x="2048.05" y="591.75" width="14.7" height="14.7"/>
<rect x="2049.11" y="591.85" width="14.7" height="14.7"/>
<rect x="2050.17" y="591.95" width="14.7" height="14.7"/>
<rect x="2051.21" y="592.05" width="14.7" height="14.7"/>
<rect x="2052.26" y="592.14" width="14.7" height="14.7"/>
<rect x="2053.30" y="592.24" width="14.7" height="14.7"/>
<rect x="2054.34" y="592.34" width="14.7" height="14.7"/>
<rect x="2055.38" y="592.43" width="14.7" height="14.7"/>
<rect x="2056.41" y="592.53" width="14.7" height="14.7"/>
<rect x="2057.43" y="592.62" width="14.7" height="14.7"/>
<rect x="2058.46" y="592.72" width="14.7" height="14.7"/>
<rect x="2059.48" y="592.81" width="14.7" height="14.7"/>
<rect x="2060.49" y="592.90" width="14.7" height="14.7"/>
<rect x="2061.51" y="592.99" width="14.7" height="14.7"/>
<rect x="2062.52" y="593.09" width="14.7" height="14.7"/>
<rect x="2063.52" y="593.18" width="14.7" height="14.7"/>
<rect x="2064.52" y="593.27" width="14.7" height="14.7"/>
<rect x="2065.52" y="593.36" width="14.7" height="14.7"/>
<rect x="2066.52" y="593.45" width="14.7" height="14.7"/>
<rect x="2067.51" y="593.54" width="14.7" height="14.7"/>
<rect x="2068.50" y="593.63" width="14.7" height="14.7"/>
<rect x="2069.49" y="593.71" width="14.7" height="14.7"/>
<rect x="2070.47" y="593.80" width="14.7" height="14.7"/>
<rect x="2071.45" y="593.89" width="14.7" height="14.7"/>
<rect x="2072.42" y="593.98" width="14.7" height="14.7"/>
<rect x="2073.39" y="594.06" width="14.7" height="14.7"/>
<rect x="2074.36" y="594.15" width="14.7" height="14.7"/>
<rect x="2075.33" y="594.23" width="14.7" height="14.7"/>
<rect x="2076.29" y="594.32" width="14.7" height="14.7"/>
<rect x="2077.25" y="594.40" width="14.7" height="14.7"/>
<rect x="2078.21" y="594.48" width="14.7" height="14.7"/>
<rect x="2079.16" y="594.57" width="14.7" height="14.7"/>
<rect x="2080.11" y="594.65" width="14.7" height="14.7"/>
<rect x="2081.06" y="594.73" width="14.7" height="14.7"/>
<rect x="2082.00" y="594.81" width="14.7" height="14.7"/>
<rect x="2082.94" y="594.90" width="14.7" height="14.7"/>
<rect x="2083.88" y="594.98" width="14.7" height="14.7"/>
<rect x="2084.81" y="595.06" width="14.7" height="14.7"/>
<rect x="2085.74" y="595.14" width="14.7" height="14.7"/>
<rect x="2086.67" y="595.22" width="14.7" height="14.7"/>
<rect x="2087.60" y="595.29" width="14.7" height="14.7"/>
<rect x="2088.52" y="595.37" width="14.7" height="14.7"/>
<rect x="2089.44" y="595.45" width="14.7" height="14.7"/>
<rect x="2090.36" y="595.53" width="14.7" height="14.7"/>
<rect x="2091.27" y="595.61" width="14.7" height="14.7"/>
<rect x="2092.18" y="595.68" width="14.7" height="14.7"/>
<rect x="2093.09" y="595.76" width="14.7" height="14.7"/>
<rect x="2094.00" y="595.84" width="14.7" height="14.7"/>
<rect x="2094.90" y="595.91" width="14.7" height="14.7"/>
<rect x="2095.80" y="595.99" width="14.7" height="14.7"/>
<rect x="2096.70" y="596.06" width="14.7" height="14.7"/>
<rect x="2097.59" y="596.14" width="14.7" height="14.7"/>
<rect x="2098.48" y="596.21" width="14.7" height="14.7"/>
<rect x="2099.37" y="596.28" width="14.7" height="14.7"/>
<rect x="2100.26" y="596.36" width="14.7" height="14.7"/>
<rect x="2101.14" y="596.43" width="14.7" height="14.7"/>
<rect x="2102.02" y="596.50" width="14.7" height="14.7"/>
<rect x="2102.90" y="596.57" width="14.7" height="14.7"/>
<rect x="2103.77" y="596.65" width="14.7" height="14.7"/>
<rect x="2104.65" y="596.72" width="14.7" height="14.7"/>
<rect x="2105.52" y="596.79" width="14.7" height="14.7"/>
<rect x="2106.38" y="596.86" width="14.7" height="14.7"/>
<rect x="2107.25" y="596.93" width="14.7" height="14.7"/>
<rect x="2108.11" y="597.00" width="14.7" height="14.7"/>
<rect x="2108.97" y="597.07" width="14.7" height="14.7"/>
<rect x="2109.83" y="597.14" width="14.7" height="14.7"/>
<rect x="2110.68" y="597.21" width="14.7" height="14.7"/>
<rect x="2111.54" y="597.28" width="14.7" height="14.7"/>
<rect x="2112.39" y="597.34" width="14.7" height="14.7"/>
<rect x="2113.23" y="597.41" width="14.7" height="14.7"/>
<rect x="2114.08" y="597.48" width="14.7" height="14.7"/>
<rect x="2114.92" y="597.55" width="14.7" height="14.7"/>
<rect x="2115.76" y="597.61" width="14.7" height="14.7"/>
<rect x="2116.60" y="597.68" width="14.7" height="14.7"/>
<rect x="2117.43" y="597.74" width="14.7" height="14.7"/>
<rect x="2118.27" y="597.81" width="14.7" height="14.7"/>
<rect x="2119.10" y="597.88" width="14.7" height="14.7"/>
<rect x="2119.92" y="597.94" width="14.7" height="14.7"/>
<rect x="2120.75" y="598.01" width="14.7" height="14.7"/>
<rect x="2121.57" y="598.07" width="14.7" height="14.7"/>
<rect x="2122.39" y="598.13" width="14.7" height="14.7"/>
<rect x="2123.21" y="598.20" width="14.7" height="14.7"/>
<rect x="2124.03" y="598.26" width="14.7" height="14.7"/>
<rect x="2124.84" y="598.32" width="14.7" height="14.7"/>
<rect x="2125.65" y="598.39" width="14.7" height="14.7"/>
<rect x="2126.46" y="598.45" width="14.7" height="14.7"/>
<rect x="2127.27" y="598.51" width="14.7" height="14.7"/>
<rect x="2128.08" y="598.57" width="14.7" height="14.7"/>
<rect x="2128.88" y="598.64" width="14.7" height="14.7"/>
<rect x="2129.68" y="598.70" width="14.7" height="14.7"/>
<rect x="2130.48" y="598.76" width="14.7" height="14.7"/>
<rect x="2131.27" y="598.82" width="14.7" height="14.7"/>
<rect x="2132.07" y="598.88" width="14.7" height="14.7"/>
<rect x="2132.86" y="598.94" width="14.7" height="14.7"/>
<rect x="2133.65" y="599.00" width="14.7" height="14.7"/>
<rect x="2134.44" y="599.06" width="14.7" height="14.7"/>
<rect x="2135.22" y="599.12" width="14.7" height="14.7"/>
<rect x="2136.01" y="599.18" width="14.7" height="14.7"/>
<rect x="2136.79" y="599.24" width="14.7" height="14.7"/>
<rect x="2137.57" y="599.30" width="14.7" height="14.7"/>
<rect x="2138.34" y="599.35" width="14.7" height="14.7"/>
<rect x="2139.12" y="599.41" width="14.7" height="14.7"/>
<rect x="2139.89" y="599.47" width="14.7" height="14.7"/>
<rect x="2140.66" y="599.53" width="14.7" height="14.7"/>
<rect x="2141.43" y="599.58" width="14.7" height="14.7"/>
<rect x="2142.20" y="599.64" width="14.7" height="14.7"/>
<rect x="2142.96" y="599.70" width="14.7" height="14.7"/>
<rect x="2143.72" y="599.75" width="14.7" height="14.7"/>
<rect x="2144.48" y="599.81" width="14.7" height="14.7"/>
<rect x="2145.24" y="599.87" width="14.7" height="14.7"/>
<rect x="2146.00" y="599.92" width="14.7" height="14.7"/>
<rect x="2146.75" y="599.98" width="14.7" height="14.7"/>
<rect x="2147.51" y="600.03" width="14.7" height="14.7"/>
<rect x="2148.26" y="600.09" width="14.7" height="14.7"/>
<rect x="2149.01" y="600.14" width="14.7" height="14.7"/>
<rect x="2149.75" y="600.20" width="14.7" height="14.7"/>
<rect x="2150.50" y="600.25" width="14.7" height="14.7"/>
<rect x="2151.24" y="600.30" width="14.7" height="14.7"/>
<rect x="2151.98" y="600.36" width="14.7" height="14.7"/>
<rect x="2152.72" y="600.41" width="14.7" height="14.7"/>
<rect x="2153.46" y="600.46" width="14.7" height="14.7"/>
<rect x="2154.20" y="600.52" width="14.7" height="14.7"/>
<rect x="2154.93" y="600.57" width="14.7" height="14.7"/>
<rect x="2155.66" y="600.62" width="14.7" height="14.7"/>
<rect x="2156.39" y="600.67" width="14.7" height="14.7"/>
<rect x="2157.12" y="600.73" width="14.7" height="14.7"/>
<rect x="2157.85" y="600.78" width="14.7" height="14.7"/>
<rect x="2158.57" y="600.83" width="14.7" height="14.7"/>
<rect x="2159.29" y="600.88" width="14.7" height="14.7"/>
<rect x="2160.01" y="600.93" width="14.7" height="14.7"/>
<rect x="2160.73" y="600.98" width="14.7" height="14.7"/>
<rect x="2161.45" y="601.03" width="14.7" height="14.7"/>
<rect x="2162.17" y="601.08" width="14.7" height="14.7"/>
<rect x="2162.88" y="601.13" width="14.7" height="14.7"/>
<rect x="2163.59" y="601.18" width="14.7" height="14.7"/>
<rect x="2164.30" y="601.23" width="14.7" height="14.7"/>
<rect x="2165.01" y="601.28" width="14.7" height="14.7"/>
<rect x="2165.72" y="601.33" width="14.7" height="14.7"/>
<rect x="2166.42" y="601.38" width="14.7" height="14.7"/>
<rect x="2167.13" y="601.43" width="14.7" height="14.7"/>
<rect x="2167.83" y="601.48" width="14.7" height="14.7"/>
<rect x="2168.53" y="601.53" width="14.7" height="14.7"/>
<rect x="2169.23" y="601.58" width="14.7" height="14.7"/>
<rect x="2169.92" y="601.62" width="14.7" height="14.7"/>
<rect x="2170.62" y="601.67" width="14.7" height="14.7"/>
<rect x="2171.31" y="601.72" width="14.7" height="14.7"/>
<rect x="2172.01" y="601.77" width="14.7" height="14.7"/>
<rect x="2172.70" y="601.81" width="14.7" height="14.7"/>
<rect x="2173.38" y="601.86" width="14.7" height="14.7"/>
<rect x="2174.07" y="601.91" width="14.7" height="14.7"/>
<rect x="2174.76" y="601.95" width="14.7" height="14.7"/>
<rect x="2175.44" y="602.00" width="14.7" height="14.7"/>
<rect x="2176.12" y="602.05" width="14.7" height="14.7"/>
<rect x="2176.80" y="602.09" width="14.7" height="14.7"/>
<rect x="2177.48" y="602.14" width="14.7" height="14.7"/>
<rect x="2178.16" y="602.18" width="14.7" height="14.7"/>
<rect x="2178.83" y="602.23" width="14.7" height="14.7"/>
<rect x="2179.51" y="602.28" width="14.7" height="14.7"/>
<rect x="2180.18" y="602.32" width="14.7" height="14.7"/>
<rect x="2180.85" y="602.37" width="14.7" height="14.7"/>
<rect x="2181.52" y="602.41" width="14.7" height="14.7"/>
<rect x="2182.19" y="602.46" width="14.7" height="14.7"/>
<rect x="2182.85" y="602.50" width="14.7" height="14.7"/>
<rect x="2183.52" y="602.54" width="14.7" height="14.7"/>
<rect x="2184.18" y="602.59" width="14.7" height="14.7"/>
<rect x="2184.84" y="602.63" width="14.7" height="14.7"/>
<rect x="2185.51" y="602.68" width="14.7" height="14.7"/>
<rect x="2186.16" y="602.72" width="14.7" height="14.7"/>
<rect x="2186.82" y="602.76" width="14.7" height="14.7"/>
<rect x="2187.48" y="602.81" width="14.7" height="14.7"/>
<rect x="2188.13" y="602.85" width="14.7" height="14.7"/>
<rect x="2188.78" y="602.89" width="14.7" height="14.7"/>
<rect x="2189.44" y="602.93" width="14.7" height="14.7"/>
<rect x="2190.09" y="602.98" width="14.7" height="14.7"/>
<rect x="2190.73" y="603.02" width="14.7" height="14.7"/>
<rect x="2191.38" y="603.06" width="14.7" height="14.7"/>
<rect x="2192.03" y="603.10" width="14.7" height="14.7"/>
<rect x="2192.67" y="603.14" width="14.7" height="14.7"/>
<rect x="2193.31" y="603.19" width="14.7" height="14.7"/>
<rect x="2193.95" y="603.23" width="14.7" height="14.7"/>
<rect x="2194.59" y="603.27" width="14.7" height="14.7"/>
<rect x="2195.23" y="603.31" width="14.7" height="14.7"/>
<rect x="2195.87" y="603.35" width="14.7" height="14.7"/>
<rect x="2196.51" y="603.39" width="14.7" height="14.7"/>
<rect x="2197.14" y="603.43" width="14.7" height="14.7"/>
<rect x="2197.77" y="603.47" width="14.7" height="14.7"/>
<rect x="2198.40" y="603.51" width="14.7" height="14.7"/>
<rect x="2199.03" y="603.55" width="14.7" height="14.7"/>
<rect x="2199.66" y="603.59" width="14.7" height="14.7"/>
<rect x="2200.29" y="603.63" width="14.7" height="14.7"/>
<rect x="2200.92" y="603.67" width="14.7" height="14.7"/>
<rect x="2201.54" y="603.71" width="14.7" height="14.7"/>
<rect x="2202.17" y="603.75" width="14.7" height="14.7"/>
<rect x="2202.79" y="603.79" width="14.7" height="14.7"/>
<rect x="2203.41" y="603.83" width="14.7" height="14.7"/>
<rect x="2204.03" y="603.87" width="14.7" height="14.7"/>
<rect x="2204.65" y="603.91" width="14.7" height="14.7"/>
<rect x="2205.26" y="603.95" width="14.7" height="14.7"/>
<rect x="2205.88" y="603.99" width="14.7" height="14.7"/>
<rect x="2206.49" y="604.03" width="14.7" height="14.7"/>
<rect x="2207.11" y="604.06" width="14.7" height="14.7"/>
<rect x="2207.72" y="604.10" width="14.7" height="14.7"/>
<rect x="2208.33" y="604.14" width="14.7" height="14.7"/>
<rect x="2208.94" y="604.18" width="14.7" height="14.7"/>
<rect x="2209.54" y="604.22" width="14.7" height="14.7"/>
<rect x="2210.15" y="604.25" width="14.7" height="14.7"/>
<rect x="2210.76" y="604.29" width="14.7" height="14.7"/>
<rect x="2211.36" y="604.33" width="14.7" height="14.7"/>
<rect x="2211.96" y="604.37" width="14.7" height="14.7"/>
<rect x="2212.56" y="604.40" width="14.7" height="14.7"/>
<rect x="2213.16" y="604.44" width="14.7" height="14.7"/>
<rect x="2213.76" y="604.48" width="14.7" height="14.7"/>
<rect x="2214.36" y="604.51" width="14.7" height="14.7"/>
<rect x="2214.96" y="604.55" width="14.7" height="14.7"/>
<rect x="2215.55" y="604.59" width="14.7" height="14.7"/>
<rect x="2216.15" y="604.62" width="14.7" height="14.7"/>
<rect x="2216.74" y="604.66" width="14.7" height="14.7"/>
<rect x="2217.33" y="604.69" width="14.7" height="14.7"/>
<rect x="2217.92" y="604.73" width="14.7" height="14.7"/>
<rect x="2218.51" y="604.77" width="14.7" height="14.7"/>
<rect x="2219.10" y="604.80" width="14.7" height="14.7"/>
<rect x="2219.69" y="604.84" width="14.7" height="14.7"/>
<rect x="2220.27" y="604.87" width="14.7" height="14.7"/>
<rect x="2220.86" y="604.91" width="14.7" height="14.7"/>
<rect x="2221.44" y="604.94" width="14.7" height="14.7"/>
<rect x="2222.02" y="604.98" width="14.7" height="14.7"/>
<rect x="2222.60" y="605.01" width="14.7" height="14.7"/>
</g>
<polyline points="789.50,366.58 794.32,366.83 799.05,367.09 803.71,367.35 808.30,367.61 812.82,367.87 817.26,368.13 821.64,368.39 825.96,368.65 830.21,368.91 834.40,369.17 838.53,369.43 842.60,369.69 846.62,369.94 850.58,370.20 854.49,370.46 858.34,370.72 862.15,370.98 865.90,371.24 869.61,371.50 873.27,371.76 876.89,372.02 880.46,372.28 883.99,372.54 887.47,372.79 890.91,373.05 894.32,373.31 897.68,373.57 901.01,373.83 904.30,374.09 907.55,374.35 910.76,374.61 913.94,374.87 917.09,375.13 920.20,375.39 923.28,375.65 926.32,375.90 929.34,376.16 932.32,376.42 935.28,376.68 938.20,376.94 941.09,377.20 943.96,377.46 946.80,377.72 949.61,377.98 952.39,378.24 955.15,378.50 957.88,378.76 960.58,379.01 963.26,379.27 965.92,379.53 968.55,379.79 971.16,380.05 973.74,380.31 976.31,380.57 978.85,380.83 981.36,381.09 983.86,381.35 986.34,381.61 988.79,381.87 991.22,382.12 993.64,382.38 996.03,382.64 998.40,382.90 1000.76,383.16 1003.09,383.42 1005.41,383.68 1007.71,383.94 1009.99,384.20 1012.25,384.46 1014.49,384.72 1016.72,384.97 1018.93,385.23 1021.13,385.49 1023.30,385.75 1025.47,386.01 1027.61,386.27 1029.74,386.53 1031.86,386.79 1033.95,387.05 1036.04,387.31 1038.11,387.57 1040.16,387.83 1042.20,388.08 1044.23,388.34 1046.24,388.60 1048.24,388.86 1050.22,389.12 1052.19,389.38 1054.15,389.64 1056.09,389.90 1058.02,390.16 1059.94,390.42 1061.85,390.68 1063.74,390.94 1065.62,391.19 1067.49,391.45 1069.35,391.71 1071.19,391.97 1073.03,392.23 1074.85,392.49 1076.66,392.75 1078.46,393.01 1080.25,393.27 1082.03,393.53 1083.79,393.79 1085.55,394.05 1087.29,394.30 1089.03,394.56 1090.75,394.82 1092.47,395.08 1094.17,395.34 1095.87,395.60 1097.55,395.86 1099.23,396.12 1100.89,396.38 1102.55,396.64 1104.19,396.90 1105.83,397.16 1107.46,397.41 1109.08,397.67 1110.69,397.93 1112.29,398.19 1113.88,398.45 1115.46,398.71 1117.04,398.97 1118.61,399.23 1120.16,399.49 1121.71,399.75 1123.25,400.01 1124.79,400.26 1126.31,400.52 1127.83,400.78 1129.34,401.04 1130.84,401.30 1132.34,401.56 1133.82,401.82 1135.30,402.08 1136.77,402.34 1138.23,402.60 1139.69,402.86 1141.14,403.12 1142.58,403.37 1144.02,403.63 1145.44,403.89 1146.87,404.15 1148.28,404.41 1149.69,404.67 1151.09,404.93 1152.48,405.19 1153.87,405.45 1155.25,405.71 1156.62,405.97 1157.99,406.23 1159.35,406.48 1160.70,406.74 1162.05,407.00 1163.39,407.26 1164.73,407.52 1166.06,407.78 1167.38,408.04 1168.70,408.30 1170.01,408.56 1171.32,408.82 1172.62,409.08 1173.91,409.34 1175.20,409.59 1176.48,409.85 1177.76,410.11 1179.03,410.37 1180.29,410.63 1181.55,410.89 1182.81,411.15 1184.06,411.41 1185.30,411.67 1186.54,411.93 1187.77,412.19 1189.00,412.44 1190.23,412.70 1191.44,412.96 1192.66,413.22 1193.86,413.48 1195.07,413.74 1196.27,414.00 1197.46,414.26 1198.65,414.52 1199.83,414.78 1201.01,415.04 1202.18,415.30 1203.35,415.55 1204.51,415.81 1205.67,416.07 1206.83,416.33 1207.98,416.59 1209.13,416.85 1210.27,417.11 1211.40,417.37 1212.54,417.63 1213.66,417.89 1214.79,418.15 1215.91,418.41 1217.02,418.66 1218.13,418.92 1219.24,419.18 1220.34,419.44 1221.44,419.70 1222.53,419.96 1223.62,420.22 1224.71,420.48 1225.79,420.74 1226.87,421.00 1227.94,421.26 1229.01,421.52 1230.08,421.77 1231.14,422.03 1232.20,422.29 1233.25,422.55 1234.30,422.81 1235.35,423.07 1236.39,423.33 1237.43,423.59 1238.47,423.85 1239.50,424.11 1240.53,424.37 1241.55,424.62 1242.57,424.88 1243.59,425.14 1244.60,425.40 1245.61,425.66 1246.62,425.92 1247.62,426.18 1248.62,426.44 1249.62,426.70 1250.61,426.96 1251.60,427.22 1252.59,427.48 1253.57,427.73 1254.55,427.99 1255.53,428.25 1256.50,428.51" fill="none" stroke="#FF0000" stroke-width="9" stroke-linecap="round" stroke-linejoin="round" stroke-dasharray="19.5 15.5"/>
</svg>
</body></html>
